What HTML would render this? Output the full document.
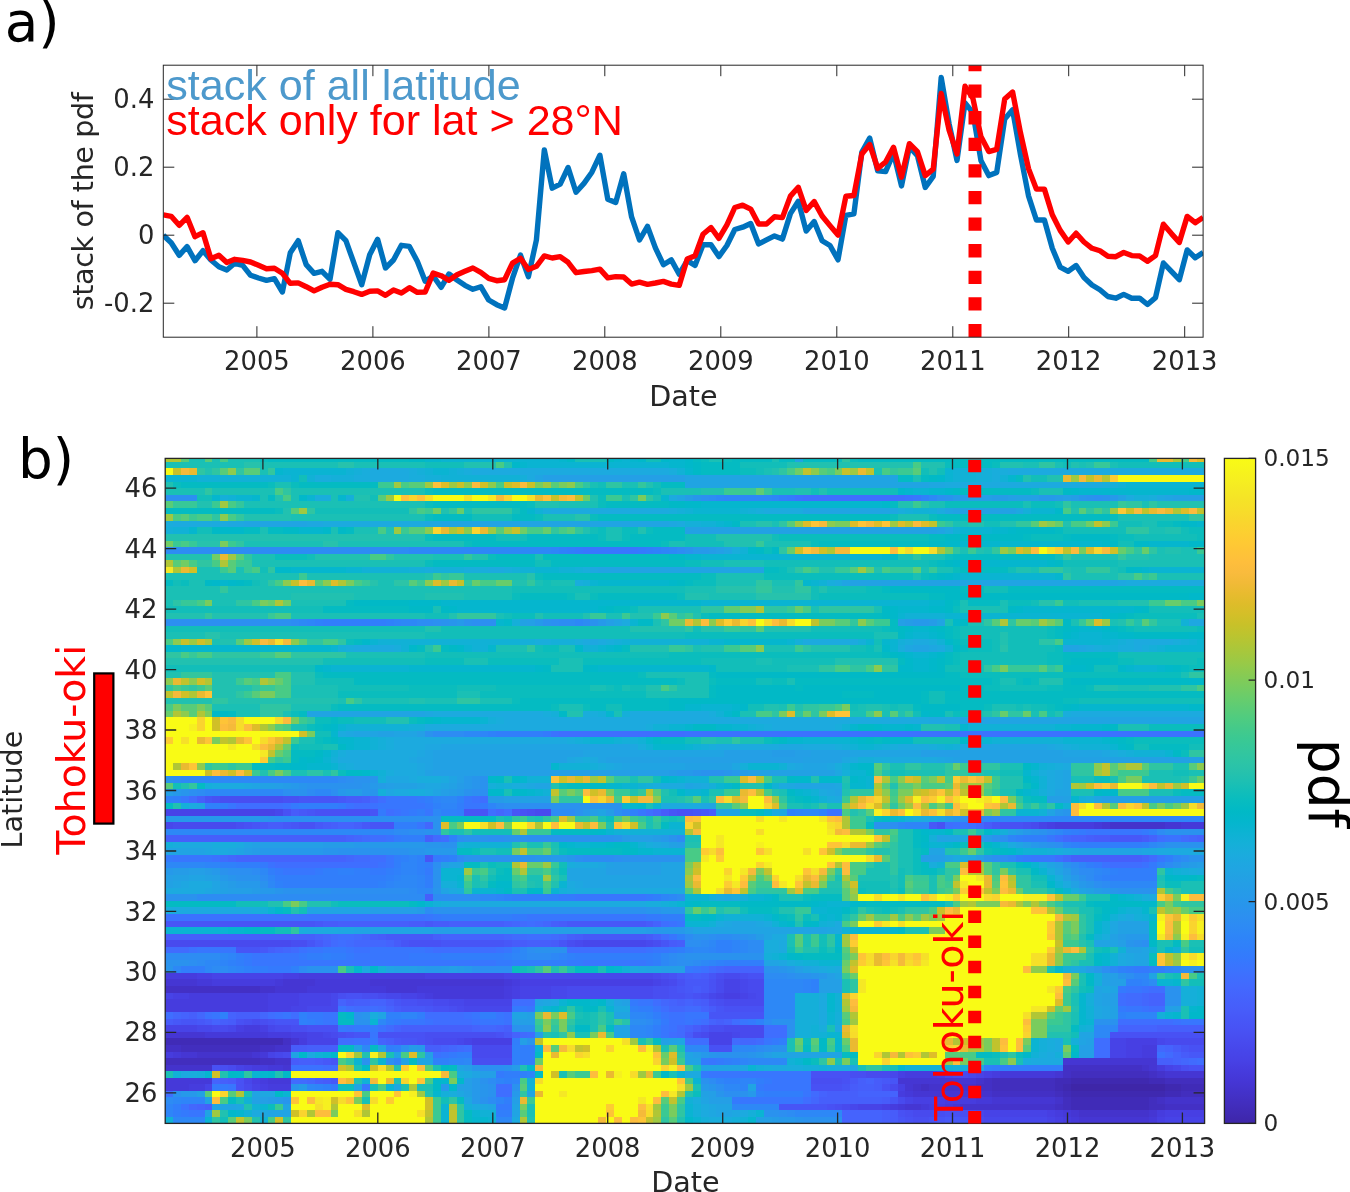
<!DOCTYPE html>
<html><head><meta charset="utf-8"><title>figure</title>
<style>html,body{margin:0;padding:0;background:#fff}svg{display:block}text{font-family:'DejaVu Sans','Liberation Sans',sans-serif;fill:#262626}.lib{font-family:'Liberation Sans',sans-serif}</style></head><body>
<svg width="1350" height="1192" viewBox="0 0 1350 1192">
<rect width="1350" height="1192" fill="#fff"/>
<g id="top">
<text x="256.9" y="370.3" font-size="25.8" text-anchor="middle">2005</text>
<text x="372.9" y="370.3" font-size="25.8" text-anchor="middle">2006</text>
<text x="488.9" y="370.3" font-size="25.8" text-anchor="middle">2007</text>
<text x="604.8" y="370.3" font-size="25.8" text-anchor="middle">2008</text>
<text x="720.8" y="370.3" font-size="25.8" text-anchor="middle">2009</text>
<text x="836.8" y="370.3" font-size="25.8" text-anchor="middle">2010</text>
<text x="952.8" y="370.3" font-size="25.8" text-anchor="middle">2011</text>
<text x="1068.7" y="370.3" font-size="25.8" text-anchor="middle">2012</text>
<text x="1184.7" y="370.3" font-size="25.8" text-anchor="middle">2013</text>
<text x="154.4" y="108.0" font-size="25.8" text-anchor="end">0.4</text>
<text x="154.4" y="176.0" font-size="25.8" text-anchor="end">0.2</text>
<text x="154.4" y="244.0" font-size="25.8" text-anchor="end">0</text>
<text x="154.4" y="312.0" font-size="25.8" text-anchor="end">-0.2</text>
<clipPath id="c1"><rect x="163.3" y="65.2" width="1039.8" height="272.0"/></clipPath>
<g clip-path="url(#c1)">
<polyline points="163.3,235.3 171.2,242.7 179.2,255.3 187.1,246.7 195.0,260.7 203.0,250.7 210.9,260.0 218.9,266.7 226.8,270.0 234.7,263.3 242.7,265.3 250.6,275.3 258.5,278.0 266.5,280.3 274.4,278.7 282.4,292.0 290.3,252.7 298.2,240.7 306.2,264.7 314.1,273.3 322.0,271.3 330.0,279.3 337.9,232.7 345.9,240.7 353.8,262.7 361.7,284.7 369.7,254.7 377.6,239.3 385.5,268.0 393.5,260.0 401.4,245.3 409.4,246.4 417.3,261.3 425.2,281.3 433.2,276.0 441.1,287.3 449.0,274.0 457.0,280.0 464.9,285.3 472.9,289.3 480.8,286.7 488.7,300.0 496.7,304.7 504.6,308.0 512.5,278.2 520.5,255.1 528.4,276.6 536.4,240.0 544.3,149.9 552.2,188.2 560.2,184.2 568.1,167.5 576.0,192.2 584.0,183.4 591.9,172.2 599.9,155.2 607.8,199.3 615.7,202.5 623.7,173.8 631.6,216.9 639.5,240.0 647.5,226.4 655.4,247.9 663.4,264.7 671.3,259.9 679.2,274.2 687.2,260.6 695.1,265.4 703.0,244.7 711.0,244.7 718.9,256.6 726.9,245.5 734.8,229.5 742.7,227.2 750.7,223.5 758.6,243.9 766.5,239.9 774.5,235.9 782.4,239.1 790.4,213.6 798.3,201.3 806.2,231.1 814.2,221.6 822.1,240.7 830.0,245.5 838.0,259.8 845.9,215.4 853.9,213.8 861.8,152.4 869.7,138.1 877.7,170.8 885.6,171.6 893.5,153.2 901.5,185.9 909.4,146.9 917.4,155.6 925.3,187.5 933.2,176.4 941.2,77.5 949.1,123.8 957.0,160.4 965.0,103.0 972.9,112.6 980.9,160.4 988.8,175.6 996.7,172.4 1004.7,119.0 1012.6,109.8 1020.5,154.9 1028.5,195.8 1036.4,220.0 1044.4,220.0 1052.3,248.3 1060.2,267.1 1068.2,271.3 1076.1,265.5 1084.0,277.6 1092.0,285.0 1099.9,289.8 1107.9,296.5 1115.8,298.2 1123.7,294.4 1131.7,298.2 1139.6,298.2 1147.5,304.5 1155.5,297.6 1163.4,263.0 1171.4,271.3 1179.3,279.7 1187.2,249.9 1195.2,257.7 1203.1,252.5" fill="none" stroke="#0072bd" stroke-width="5.4" stroke-linejoin="round"/>
<polyline points="163.3,214.9 171.2,216.3 179.2,225.3 187.1,217.3 195.0,236.7 203.0,232.7 210.9,258.7 218.9,255.3 226.8,262.4 234.7,259.3 242.7,260.4 250.6,262.0 258.5,265.3 266.5,268.7 274.4,268.3 282.4,273.3 290.3,283.3 298.2,282.9 306.2,286.7 314.1,290.9 322.0,287.3 330.0,284.3 337.9,284.7 345.9,289.3 353.8,291.7 361.7,294.4 369.7,291.3 377.6,290.9 385.5,295.3 393.5,290.0 401.4,293.1 409.4,287.7 417.3,292.3 425.2,292.0 433.2,273.1 441.1,275.7 449.0,280.3 457.0,274.7 464.9,271.3 472.9,268.0 480.8,272.3 488.7,278.4 496.7,280.7 504.6,279.7 512.5,263.1 520.5,258.3 528.4,269.5 536.4,266.3 544.3,255.9 552.2,258.0 560.2,256.7 568.1,262.3 576.0,272.7 584.0,271.5 591.9,270.6 599.9,269.1 607.8,277.9 615.7,276.6 623.7,277.0 631.6,284.1 639.5,282.2 647.5,284.3 655.4,283.0 663.4,281.4 671.3,284.1 679.2,285.4 687.2,259.0 695.1,255.8 703.0,234.3 711.0,227.5 718.9,238.3 726.9,224.8 734.8,207.5 742.7,205.2 750.7,209.1 758.6,224.0 766.5,224.0 774.5,216.8 782.4,217.6 790.4,196.1 798.3,187.3 806.2,210.4 814.2,201.6 822.1,216.0 830.0,225.6 838.0,235.1 845.9,196.3 853.9,195.5 861.8,154.0 869.7,144.5 877.7,168.4 885.6,162.0 893.5,147.3 901.5,177.2 909.4,143.7 917.4,151.6 925.3,175.6 933.2,169.2 941.2,93.5 949.1,130.1 957.0,154.0 965.0,86.3 972.9,98.3 980.9,136.5 988.8,151.6 996.7,149.3 1004.7,99.1 1012.6,92.0 1020.5,132.9 1028.5,168.6 1036.4,189.1 1044.4,189.1 1052.3,214.7 1060.2,230.4 1068.2,242.0 1076.1,233.2 1084.0,242.0 1092.0,248.3 1099.9,250.8 1107.9,256.2 1115.8,256.7 1123.7,252.5 1131.7,255.6 1139.6,256.0 1147.5,261.3 1155.5,255.6 1163.4,224.2 1171.4,233.6 1179.3,242.4 1187.2,216.4 1195.2,222.7 1203.1,217.4" fill="none" stroke="#ff0000" stroke-width="5.4" stroke-linejoin="round"/>
<line x1="975" y1="337.2" x2="975" y2="45.2" stroke="#ff0000" stroke-width="13" stroke-dasharray="13.3 13.3"/>
</g>
<path d="M256.9 337.2v-11M256.9 65.2v11M372.9 337.2v-11M372.9 65.2v11M488.9 337.2v-11M488.9 65.2v11M604.8 337.2v-11M604.8 65.2v11M720.8 337.2v-11M720.8 65.2v11M836.8 337.2v-11M836.8 65.2v11M952.8 337.2v-11M952.8 65.2v11M1068.7 337.2v-11M1068.7 65.2v11M1184.7 337.2v-11M1184.7 65.2v11M163.3 99.2h11M1203.1 99.2h-11M163.3 167.2h11M1203.1 167.2h-11M163.3 235.2h11M1203.1 235.2h-11M163.3 303.2h11M1203.1 303.2h-11" stroke="#262626" stroke-width="1" fill="none"/>
<rect x="163.3" y="65.2" width="1039.8" height="272.0" fill="none" stroke="#262626" stroke-width="1"/>
<text class="lib" x="166.2" y="100" font-size="43.1" style="fill:#4d99cc">stack of all latitude</text>
<text class="lib" x="166.2" y="134.7" font-size="43.1" style="fill:#ff0000">stack only for lat &gt; 28°N</text>
<text x="683.4" y="405.8" font-size="28.6" text-anchor="middle">Date</text>
<text transform="translate(92.8,201.4) rotate(-90)" font-size="28.6" letter-spacing="-0.4" text-anchor="middle">stack of the pdf</text>
<text x="4.7" y="41" font-size="54.8" style="fill:#000">a)</text>
</g>
<g id="hm" shape-rendering="crispEdges">
<g transform="translate(165.20,461.93) scale(7.87424,6.5511)">
<path fill="#3e26a8" d="M115 95h12v1h-12z"/>
<path fill="#3f29b0" d="M115 94h10v1h-10zM114 95h1v1h-1zM127 95h2v1h-2zM115 96h12v1h-12z"/>
<path fill="#402bb7" d="M0 88h15v1h-15zM113 94h2v1h-2zM125 94h2v1h-2zM113 95h1v1h-1zM129 95h3v1h-3zM114 96h1v1h-1zM127 96h2v1h-2zM115 97h10v1h-10zM115 98h10v1h-10z"/>
<path fill="#422ebe" d="M2 89h10v1h-10zM0 91h12v1h-12zM115 93h10v1h-10zM105 94h8v1h-8zM127 94h5v1h-5zM105 95h8v1h-8zM113 96h1v1h-1zM129 96h3v1h-3zM114 97h1v1h-1zM125 97h1v1h-1zM114 98h1v1h-1zM125 98h2v1h-2z"/>
<path fill="#4330c5" d="M0 80h12v1h-12zM15 88h1v1h-1zM0 89h2v1h-2zM12 89h2v1h-2zM12 91h2v1h-2zM114 92h10v1h-10zM114 93h1v1h-1zM125 93h1v1h-1zM104 94h1v1h-1zM96 95h1v1h-1zM103 95h2v1h-2zM105 96h8v1h-8zM126 97h1v1h-1zM113 98h1v1h-1zM127 98h5v1h-5z"/>
<path fill="#4433cc" d="M120 55h7v1h-7zM12 80h2v1h-2zM14 89h2v1h-2zM4 90h7v1h-7zM14 91h2v1h-2zM0 92h6v1h-6zM124 92h1v1h-1zM126 93h1v1h-1zM103 94h1v1h-1zM95 95h1v1h-1zM97 95h6v1h-6zM103 96h2v1h-2zM113 97h1v1h-1zM127 97h5v1h-5zM101 98h12v1h-12zM116 99h9v1h-9z"/>
<path fill="#4536d3" d="M119 55h1v1h-1zM127 55h2v1h-2zM0 79h4v1h-4zM15 79h4v1h-4zM26 79h17v1h-17zM14 80h4v1h-4zM28 80h4v1h-4zM0 87h5v1h-5zM16 88h1v1h-1zM2 90h2v1h-2zM11 90h1v1h-1zM114 91h12v1h-12zM15 92h1v1h-1zM125 92h1v1h-1zM113 93h1v1h-1zM127 93h5v1h-5zM93 94h10v1h-10zM94 95h1v1h-1zM95 96h8v1h-8zM105 97h8v1h-8zM94 98h2v1h-2zM100 98h1v1h-1zM115 99h1v1h-1zM125 99h1v1h-1zM116 100h9v.971h-9z"/>
<path fill="#4539d9" d="M118 55h1v1h-1zM129 55h3v1h-3zM4 79h2v1h-2zM14 79h1v1h-1zM19 79h7v1h-7zM43 79h1v1h-1zM18 80h10v1h-10zM32 80h11v1h-11zM34 81h9v1h-9zM5 87h8v1h-8zM1 90h1v1h-1zM12 90h1v1h-1zM13 92h2v1h-2zM106 93h7v1h-7zM0 94h6v1h-6zM13 94h3v1h-3zM0 95h3v1h-3zM94 96h1v1h-1zM103 97h2v1h-2zM93 98h1v1h-1zM96 98h1v1h-1zM99 98h1v1h-1zM114 99h1v1h-1zM115 100h1v.971h-1zM125 100h1v.971h-1z"/>
<path fill="#463cde" d="M113 55h5v1h-5zM0 78h4v1h-4zM17 78h16v1h-16zM6 79h8v1h-8zM44 79h1v1h-1zM43 80h1v1h-1zM3 81h10v1h-10zM33 81h1v1h-1zM43 81h1v1h-1zM0 82h13v1h-13zM0 83h13v1h-13zM10 86h2v1h-2zM13 87h3v1h-3zM17 88h1v1h-1zM124 89h2v1h-2zM0 90h1v1h-1zM124 90h2v1h-2zM11 92h2v1h-2zM126 92h1v1h-1zM94 93h4v1h-4zM105 93h1v1h-1zM12 94h1v1h-1zM3 95h2v1h-2zM13 95h3v1h-3zM93 96h1v1h-1zM99 97h4v1h-4zM92 98h1v1h-1zM97 98h2v1h-2zM113 99h1v1h-1zM126 99h1v1h-1zM114 100h1v.971h-1z"/>
<path fill="#473fe3" d="M112 55h1v1h-1zM4 78h2v1h-2zM15 78h2v1h-2zM33 78h10v1h-10zM45 79h17v1h-17zM44 80h1v1h-1zM1 81h2v1h-2zM13 81h4v1h-4zM32 81h1v1h-1zM44 81h1v1h-1zM71 81h2v1h-2zM13 82h4v1h-4zM13 83h3v1h-3zM9 86h1v1h-1zM12 86h1v1h-1zM16 87h2v1h-2zM39 88h5v1h-5zM122 88h4v1h-4zM122 89h2v1h-2zM122 90h2v1h-2zM10 92h1v1h-1zM93 93h1v1h-1zM98 93h1v1h-1zM104 93h1v1h-1zM11 94h1v1h-1zM12 95h1v1h-1zM93 95h1v1h-1zM95 97h4v1h-4zM91 98h1v1h-1zM112 99h1v1h-1zM127 99h5v1h-5zM113 100h1v.971h-1zM126 100h1v.971h-1z"/>
<path fill="#4743e7" d="M0 53h14v1h-14zM111 55h1v1h-1zM6 78h9v1h-9zM43 78h2v1h-2zM62 79h1v1h-1zM71 79h2v1h-2zM45 80h4v1h-4zM71 80h2v1h-2zM0 81h1v1h-1zM17 81h4v1h-4zM30 81h2v1h-2zM45 81h4v1h-4zM70 81h1v1h-1zM73 81h1v1h-1zM17 82h4v1h-4zM38 82h6v1h-6zM16 83h2v1h-2zM0 86h4v1h-4zM18 87h2v1h-2zM69 87h3v1h-3zM18 88h4v1h-4zM38 88h1v1h-1zM69 88h3v1h-3zM120 88h2v1h-2zM120 89h2v1h-2zM13 90h1v1h-1zM120 90h2v1h-2zM9 92h1v1h-1zM127 92h1v1h-1zM103 93h1v1h-1zM5 95h1v1h-1zM11 95h1v1h-1zM94 97h1v1h-1zM88 98h3v1h-3zM104 99h8v1h-8zM112 100h1v.971h-1zM127 100h5v.971h-5z"/>
<path fill="#4747eb" d="M14 53h1v1h-1zM0 55h1v1h-1zM53 73h8v1h-8zM45 78h17v1h-17zM63 79h1v1h-1zM73 79h1v1h-1zM49 80h2v1h-2zM73 80h1v1h-1zM21 81h1v1h-1zM28 81h2v1h-2zM49 81h2v1h-2zM69 81h1v1h-1zM74 81h1v1h-1zM21 82h1v1h-1zM36 82h2v1h-2zM18 83h4v1h-4zM38 83h6v1h-6zM4 86h2v1h-2zM8 86h1v1h-1zM13 86h1v1h-1zM20 87h1v1h-1zM72 87h1v1h-1zM37 88h1v1h-1zM126 88h1v1h-1zM14 90h1v1h-1zM128 92h1v1h-1zM92 93h1v1h-1zM99 93h1v1h-1zM102 93h1v1h-1zM10 94h1v1h-1zM87 98h1v1h-1zM103 99h1v1h-1zM104 100h8v.971h-8z"/>
<path fill="#484aee" d="M47 53h2v1h-2zM1 55h8v1h-8zM110 55h1v1h-1zM0 73h16v1h-16zM52 73h1v1h-1zM61 73h1v1h-1zM62 78h1v1h-1zM71 78h2v1h-2zM64 79h1v1h-1zM70 79h1v1h-1zM74 79h2v1h-2zM51 80h11v1h-11zM70 80h1v1h-1zM74 80h2v1h-2zM27 81h1v1h-1zM51 81h11v1h-11zM75 81h1v1h-1zM34 82h2v1h-2zM71 82h5v1h-5zM37 83h1v1h-1zM11 85h1v1h-1zM6 86h2v1h-2zM14 86h2v1h-2zM71 86h5v1h-5zM21 87h1v1h-1zM68 87h1v1h-1zM73 87h3v1h-3zM34 88h3v1h-3zM127 88h5v1h-5zM39 89h5v1h-5zM15 90h1v1h-1zM39 90h5v1h-5zM8 92h1v1h-1zM89 93h3v1h-3zM100 93h2v1h-2zM10 95h1v1h-1zM92 95h1v1h-1zM93 97h1v1h-1zM86 98h1v1h-1zM95 99h3v1h-3zM102 99h1v1h-1zM103 100h1v.971h-1z"/>
<path fill="#484ef1" d="M7 51h8v1h-8zM46 53h1v1h-1zM9 55h1v1h-1zM109 55h1v1h-1zM16 73h2v1h-2zM51 73h1v1h-1zM62 73h1v1h-1zM63 78h1v1h-1zM70 78h1v1h-1zM73 78h1v1h-1zM62 80h2v1h-2zM22 81h1v1h-1zM25 81h2v1h-2zM62 81h2v1h-2zM68 81h1v1h-1zM32 82h2v1h-2zM70 82h1v1h-1zM36 83h1v1h-1zM10 85h1v1h-1zM12 85h1v1h-1zM16 86h2v1h-2zM69 86h2v1h-2zM22 87h1v1h-1zM33 87h9v1h-9zM67 87h1v1h-1zM33 88h1v1h-1zM39 91h5v1h-5zM7 92h1v1h-1zM129 92h1v1h-1zM87 93h2v1h-2zM82 94h4v1h-4zM85 98h1v1h-1zM94 99h1v1h-1zM98 99h1v1h-1zM101 99h1v1h-1zM95 100h2v.971h-2zM102 100h1v.971h-1z"/>
<path fill="#4851f4" d="M6 51h1v1h-1zM15 51h2v1h-2zM15 53h1v1h-1zM19 53h7v1h-7zM45 53h1v1h-1zM65 53h2v1h-2zM10 55h1v1h-1zM17 55h2v1h-2zM98 55h1v1h-1zM106 55h3v1h-3zM31 73h4v1h-4zM64 78h1v1h-1zM74 78h2v1h-2zM65 79h1v1h-1zM69 79h1v1h-1zM64 80h1v1h-1zM69 80h1v1h-1zM23 81h2v1h-2zM64 81h2v1h-2zM67 81h1v1h-1zM30 82h2v1h-2zM69 82h1v1h-1zM34 83h2v1h-2zM71 83h5v1h-5zM9 85h1v1h-1zM13 85h1v1h-1zM18 86h4v1h-4zM23 87h1v1h-1zM27 87h6v1h-6zM42 87h1v1h-1zM120 87h12v1h-12zM32 88h1v1h-1zM69 89h3v1h-3zM130 89h2v1h-2zM6 92h1v1h-1zM130 92h2v1h-2zM82 93h5v1h-5zM9 94h1v1h-1zM86 94h1v1h-1zM9 95h1v1h-1zM82 95h4v1h-4zM91 95h1v1h-1zM84 98h1v1h-1zM93 99h1v1h-1zM99 99h2v1h-2zM94 100h1v.971h-1zM97 100h1v.971h-1z"/>
<path fill="#4755f6" d="M5 51h1v1h-1zM17 51h5v1h-5zM18 53h1v1h-1zM26 53h1v1h-1zM38 53h3v1h-3zM44 53h1v1h-1zM64 53h1v1h-1zM67 53h1v1h-1zM11 55h1v1h-1zM16 55h1v1h-1zM26 55h3v1h-3zM105 55h1v1h-1zM33 60h1v1h-1zM0 70h19v1h-19zM18 73h1v1h-1zM30 73h1v1h-1zM35 73h8v1h-8zM50 73h1v1h-1zM63 73h1v1h-1zM9 74h3v1h-3zM69 78h1v1h-1zM65 80h1v1h-1zM66 81h1v1h-1zM29 82h1v1h-1zM33 83h1v1h-1zM70 83h1v1h-1zM69 84h7v1h-7zM2 85h2v1h-2zM14 85h3v1h-3zM68 86h1v1h-1zM24 87h2v1h-2zM30 88h2v1h-2zM129 89h1v1h-1zM21 91h1v1h-1zM92 94h1v1h-1zM86 95h1v1h-1zM92 97h1v1h-1zM78 98h6v1h-6zM93 100h1v.971h-1zM98 100h1v.971h-1zM101 100h1v.971h-1z"/>
<path fill="#4758f8" d="M22 51h1v1h-1zM17 53h1v1h-1zM68 53h1v1h-1zM12 55h1v1h-1zM15 55h1v1h-1zM19 55h1v1h-1zM25 55h1v1h-1zM97 55h1v1h-1zM120 57h4v1h-4zM19 70h1v1h-1zM33 70h1v1h-1zM51 70h10v1h-10zM28 72h6v1h-6zM53 72h8v1h-8zM43 73h1v1h-1zM12 74h1v1h-1zM65 78h1v1h-1zM66 79h3v1h-3zM66 80h1v1h-1zM68 80h1v1h-1zM30 83h3v1h-3zM1 85h1v1h-1zM4 85h1v1h-1zM43 87h1v1h-1zM29 88h1v1h-1zM130 90h2v1h-2zM20 91h1v1h-1zM21 94h1v1h-1zM87 94h1v1h-1zM91 94h1v1h-1zM99 100h2v.971h-2z"/>
<path fill="#475cfa" d="M23 51h2v1h-2zM16 53h1v1h-1zM63 53h1v1h-1zM13 55h2v1h-2zM20 55h1v1h-1zM104 55h1v1h-1zM118 57h2v1h-2zM124 57h1v1h-1zM20 70h2v1h-2zM31 70h2v1h-2zM34 70h2v1h-2zM50 70h1v1h-1zM61 70h1v1h-1zM27 72h1v1h-1zM52 72h1v1h-1zM61 72h1v1h-1zM19 73h1v1h-1zM29 73h1v1h-1zM44 73h2v1h-2zM49 73h1v1h-1zM64 73h1v1h-1zM66 78h1v1h-1zM68 78h1v1h-1zM67 80h1v1h-1zM23 82h1v1h-1zM28 82h1v1h-1zM68 82h1v1h-1zM29 83h1v1h-1zM69 83h1v1h-1zM0 85h1v1h-1zM5 85h1v1h-1zM8 85h1v1h-1zM67 86h1v1h-1zM66 87h1v1h-1zM16 89h2v1h-2zM128 89h1v1h-1zM129 90h1v1h-1zM16 91h1v1h-1zM19 91h1v1h-1zM8 94h1v1h-1zM20 94h1v1h-1zM90 94h1v1h-1zM87 95h1v1h-1zM90 95h1v1h-1zM91 97h1v1h-1zM92 99h1v1h-1zM92 100h1v.971h-1z"/>
<path fill="#465ffb" d="M4 51h1v1h-1zM25 51h1v1h-1zM69 53h1v1h-1zM21 55h1v1h-1zM24 55h1v1h-1zM0 57h23v1h-23zM33 57h1v1h-1zM117 57h1v1h-1zM115 60h9v1h-9zM33 66h1v1h-1zM22 70h9v1h-9zM36 70h7v1h-7zM49 70h1v1h-1zM0 72h19v1h-19zM26 72h1v1h-1zM34 72h1v1h-1zM51 72h1v1h-1zM46 73h3v1h-3zM65 73h1v1h-1zM13 74h1v1h-1zM67 78h1v1h-1zM24 82h2v1h-2zM65 82h1v1h-1zM67 82h1v1h-1zM3 84h1v1h-1zM9 84h3v1h-3zM7 85h1v1h-1zM70 85h1v1h-1zM30 86h9v1h-9zM43 86h1v1h-1zM126 86h6v1h-6zM28 88h1v1h-1zM18 89h4v1h-4zM33 89h2v1h-2zM17 91h2v1h-2zM126 91h2v1h-2zM7 94h1v1h-1zM19 94h1v1h-1zM88 94h1v1h-1zM88 95h2v1h-2zM84 96h4v1h-4zM83 97h8v1h-8zM5 98h1v1h-1zM91 99h1v1h-1zM91 100h1v.971h-1z"/>
<path fill="#4563fd" d="M22 55h2v1h-2zM23 57h1v1h-1zM115 57h2v1h-2zM125 57h1v1h-1zM131 57h1v1h-1zM9 60h14v1h-14zM124 60h1v1h-1zM43 70h1v1h-1zM62 70h1v1h-1zM19 72h1v1h-1zM35 72h8v1h-8zM62 72h1v1h-1zM20 73h1v1h-1zM28 73h1v1h-1zM14 74h1v1h-1zM71 77h5v1h-5zM125 81h2v1h-2zM22 82h1v1h-1zM26 82h2v1h-2zM64 82h1v1h-1zM66 82h1v1h-1zM125 82h2v1h-2zM28 83h1v1h-1zM68 83h1v1h-1zM2 84h1v1h-1zM8 84h1v1h-1zM6 85h1v1h-1zM69 85h1v1h-1zM71 85h1v1h-1zM29 86h1v1h-1zM39 86h1v1h-1zM42 86h1v1h-1zM66 86h1v1h-1zM121 86h5v1h-5zM44 87h1v1h-1zM27 88h1v1h-1zM35 89h1v1h-1zM127 89h1v1h-1zM128 90h1v1h-1zM128 91h1v1h-1zM6 94h1v1h-1zM89 94h1v1h-1zM83 96h1v1h-1zM88 96h5v1h-5zM4 98h1v1h-1zM86 99h5v1h-5zM86 100h5v.971h-5z"/>
<path fill="#4367fd" d="M26 51h1v1h-1zM42 53h1v1h-1zM62 53h1v1h-1zM33 55h1v1h-1zM103 55h1v1h-1zM24 57h1v1h-1zM114 57h1v1h-1zM130 57h1v1h-1zM8 60h1v1h-1zM23 60h1v1h-1zM114 60h1v1h-1zM44 70h1v1h-1zM48 70h1v1h-1zM20 72h1v1h-1zM25 72h1v1h-1zM43 72h1v1h-1zM50 72h1v1h-1zM24 73h4v1h-4zM15 74h1v1h-1zM70 77h1v1h-1zM124 81h1v1h-1zM63 82h1v1h-1zM124 82h1v1h-1zM64 83h2v1h-2zM1 84h1v1h-1zM4 84h1v1h-1zM12 84h1v1h-1zM40 86h2v1h-2zM73 88h2v1h-2zM36 89h1v1h-1zM126 89h1v1h-1zM129 91h1v1h-1zM18 94h1v1h-1zM82 97h1v1h-1zM3 98h1v1h-1z"/>
<path fill="#416bfe" d="M3 51h1v1h-1zM25 57h1v1h-1zM34 57h1v1h-1zM129 57h1v1h-1zM7 60h1v1h-1zM24 60h2v1h-2zM125 60h1v1h-1zM45 70h1v1h-1zM47 70h1v1h-1zM21 72h1v1h-1zM24 72h1v1h-1zM44 72h2v1h-2zM49 72h1v1h-1zM21 73h1v1h-1zM23 73h1v1h-1zM0 74h3v1h-3zM16 74h1v1h-1zM69 77h1v1h-1zM122 81h2v1h-2zM122 82h2v1h-2zM24 83h2v1h-2zM27 83h1v1h-1zM66 83h2v1h-2zM28 86h1v1h-1zM65 86h1v1h-1zM45 87h1v1h-1zM65 87h1v1h-1zM72 88h1v1h-1zM75 88h1v1h-1zM37 89h1v1h-1zM127 90h1v1h-1zM130 91h1v1h-1zM16 94h2v1h-2zM82 96h1v1h-1z"/>
<path fill="#3f6eff" d="M81 5h13v1h-13zM50 41h16v1h-16zM27 51h1v1h-1zM40 51h1v1h-1zM9 52h6v1h-6zM24 52h2v1h-2zM28 53h1v1h-1zM41 53h1v1h-1zM43 53h1v1h-1zM61 53h1v1h-1zM99 55h1v1h-1zM102 55h1v1h-1zM26 57h2v1h-2zM35 57h1v1h-1zM113 57h1v1h-1zM126 57h1v1h-1zM26 60h2v1h-2zM113 60h1v1h-1zM14 61h13v1h-13zM120 61h4v1h-4zM46 70h1v1h-1zM63 70h1v1h-1zM22 72h2v1h-2zM46 72h3v1h-3zM63 72h1v1h-1zM22 73h1v1h-1zM34 74h8v1h-8zM51 74h10v1h-10zM125 80h2v1h-2zM121 81h1v1h-1zM44 82h3v1h-3zM62 82h1v1h-1zM121 82h1v1h-1zM23 83h1v1h-1zM26 83h1v1h-1zM63 83h1v1h-1zM125 83h2v1h-2zM0 84h1v1h-1zM13 84h1v1h-1zM16 84h1v1h-1zM33 84h5v1h-5zM34 85h5v1h-5zM68 85h1v1h-1zM72 85h1v1h-1zM121 85h7v1h-7zM76 86h3v1h-3zM46 87h1v1h-1zM64 87h1v1h-1zM76 87h3v1h-3zM22 88h2v1h-2zM66 88h3v1h-3zM118 88h2v1h-2zM38 89h1v1h-1zM118 89h2v1h-2zM118 90h2v1h-2zM131 91h1v1h-1zM20 92h2v1h-2zM42 95h2v1h-2zM0 96h1v1h-1zM42 96h2v1h-2zM81 97h1v1h-1z"/>
<path fill="#3b72ff" d="M80 5h1v1h-1zM94 5h1v1h-1zM49 41h1v1h-1zM66 41h66v1h-66zM39 51h1v1h-1zM15 52h1v1h-1zM23 52h1v1h-1zM26 52h1v1h-1zM29 53h1v1h-1zM84 53h2v1h-2zM100 55h1v1h-1zM28 57h1v1h-1zM127 57h2v1h-2zM6 60h1v1h-1zM13 61h1v1h-1zM27 61h1v1h-1zM119 61h1v1h-1zM124 61h1v1h-1zM0 69h33v1h-33zM64 70h1v1h-1zM3 74h1v1h-1zM17 74h1v1h-1zM24 74h2v1h-2zM33 74h1v1h-1zM42 74h1v1h-1zM61 74h1v1h-1zM68 77h1v1h-1zM124 80h1v1h-1zM124 83h1v1h-1zM5 84h1v1h-1zM14 84h1v1h-1zM38 84h1v1h-1zM43 84h1v1h-1zM64 84h2v1h-2zM33 85h1v1h-1zM39 85h1v1h-1zM43 85h1v1h-1zM64 85h2v1h-2zM67 85h1v1h-1zM128 85h1v1h-1zM27 86h1v1h-1zM64 86h1v1h-1zM24 88h2v1h-2zM34 90h1v1h-1zM126 90h1v1h-1zM16 92h4v1h-4zM2 98h1v1h-1z"/>
<path fill="#3876fe" d="M95 5h1v1h-1zM53 13h7v1h-7zM2 51h1v1h-1zM28 51h4v1h-4zM38 51h1v1h-1zM8 52h1v1h-1zM27 52h6v1h-6zM38 52h2v1h-2zM30 53h1v1h-1zM33 53h1v1h-1zM60 53h1v1h-1zM32 55h1v1h-1zM101 55h1v1h-1zM117 56h7v1h-7zM112 57h1v1h-1zM1 60h5v1h-5zM28 60h1v1h-1zM110 60h3v1h-3zM126 60h1v1h-1zM28 61h1v1h-1zM15 62h4v1h-4zM52 66h9v1h-9zM33 69h1v1h-1zM46 69h15v1h-15zM65 70h1v1h-1zM64 72h1v1h-1zM4 74h5v1h-5zM18 74h2v1h-2zM23 74h1v1h-1zM26 74h7v1h-7zM43 74h1v1h-1zM62 74h2v1h-2zM11 75h6v1h-6zM24 75h7v1h-7zM11 76h31v1h-31zM53 76h8v1h-8zM67 77h1v1h-1zM122 80h2v1h-2zM60 82h2v1h-2zM22 83h1v1h-1zM46 83h1v1h-1zM62 83h1v1h-1zM122 83h2v1h-2zM6 84h1v1h-1zM15 84h1v1h-1zM20 84h2v1h-2zM39 84h1v1h-1zM42 84h1v1h-1zM63 84h1v1h-1zM66 84h3v1h-3zM20 85h2v1h-2zM30 85h3v1h-3zM40 85h3v1h-3zM66 85h1v1h-1zM73 85h1v1h-1zM129 85h3v1h-3zM23 86h1v1h-1zM63 86h1v1h-1zM26 87h1v1h-1zM63 87h1v1h-1zM76 88h1v1h-1zM35 90h1v1h-1zM69 91h1v1h-1zM69 93h13v1h-13zM77 94h5v1h-5zM8 95h1v1h-1zM25 95h1v1h-1zM76 95h6v1h-6zM81 96h1v1h-1zM73 97h8v1h-8zM3 99h2v1h-2z"/>
<path fill="#347afd" d="M79 5h1v1h-1zM52 13h1v1h-1zM60 13h1v1h-1zM48 41h1v1h-1zM32 51h1v1h-1zM16 52h1v1h-1zM22 52h1v1h-1zM33 52h1v1h-1zM40 52h1v1h-1zM27 53h1v1h-1zM31 53h1v1h-1zM116 56h1v1h-1zM124 56h1v1h-1zM29 57h1v1h-1zM0 60h1v1h-1zM34 60h1v1h-1zM109 60h1v1h-1zM12 61h1v1h-1zM118 61h1v1h-1zM125 61h1v1h-1zM14 62h1v1h-1zM19 62h1v1h-1zM26 62h2v1h-2zM33 62h1v1h-1zM50 66h2v1h-2zM61 66h1v1h-1zM34 69h1v1h-1zM44 69h2v1h-2zM61 69h2v1h-2zM20 74h3v1h-3zM64 74h1v1h-1zM10 75h1v1h-1zM17 75h1v1h-1zM23 75h1v1h-1zM31 75h4v1h-4zM10 76h1v1h-1zM42 76h2v1h-2zM51 76h2v1h-2zM61 76h1v1h-1zM13 77h3v1h-3zM66 77h1v1h-1zM123 77h2v1h-2zM121 80h1v1h-1zM59 82h1v1h-1zM44 83h2v1h-2zM121 83h1v1h-1zM18 84h2v1h-2zM19 85h1v1h-1zM29 85h1v1h-1zM63 85h1v1h-1zM74 85h1v1h-1zM22 86h1v1h-1zM24 86h3v1h-3zM26 88h1v1h-1zM77 88h1v1h-1zM36 90h1v1h-1zM68 91h1v1h-1zM70 91h1v1h-1zM42 93h1v1h-1zM68 93h1v1h-1zM76 94h1v1h-1zM6 95h2v1h-2zM21 95h1v1h-1zM75 95h1v1h-1zM72 97h1v1h-1zM42 98h2v1h-2zM2 99h1v1h-1z"/>
<path fill="#317efb" d="M78 5h1v1h-1zM51 13h1v1h-1zM61 13h1v1h-1zM20 24h8v1h-8zM42 41h6v1h-6zM1 51h1v1h-1zM33 51h1v1h-1zM7 52h1v1h-1zM17 52h5v1h-5zM37 52h1v1h-1zM32 53h1v1h-1zM37 53h1v1h-1zM29 55h3v1h-3zM115 56h1v1h-1zM30 57h3v1h-3zM109 57h3v1h-3zM116 58h8v1h-8zM29 60h1v1h-1zM35 60h1v1h-1zM108 60h1v1h-1zM127 60h1v1h-1zM9 61h3v1h-3zM29 61h1v1h-1zM33 61h1v1h-1zM117 61h1v1h-1zM13 62h1v1h-1zM20 62h2v1h-2zM24 62h2v1h-2zM28 62h1v1h-1zM121 62h5v1h-5zM14 63h14v1h-14zM33 63h1v1h-1zM120 63h6v1h-6zM15 64h12v1h-12zM33 64h1v1h-1zM44 66h6v1h-6zM62 66h1v1h-1zM35 69h9v1h-9zM63 69h3v1h-3zM65 74h1v1h-1zM9 75h1v1h-1zM18 75h2v1h-2zM21 75h2v1h-2zM35 75h8v1h-8zM52 75h10v1h-10zM9 76h1v1h-1zM44 76h7v1h-7zM62 76h1v1h-1zM71 76h5v1h-5zM2 77h3v1h-3zM11 77h2v1h-2zM122 77h1v1h-1zM125 77h2v1h-2zM60 83h2v1h-2zM32 84h1v1h-1zM40 84h2v1h-2zM62 84h1v1h-1zM18 85h1v1h-1zM28 85h1v1h-1zM62 86h1v1h-1zM62 87h1v1h-1zM44 88h1v1h-1zM78 88h1v1h-1zM28 89h1v1h-1zM45 89h2v1h-2zM37 90h2v1h-2zM45 90h2v1h-2zM45 91h2v1h-2zM71 91h1v1h-1zM105 92h9v1h-9zM43 93h2v1h-2zM75 94h1v1h-1zM76 96h5v1h-5zM43 97h1v1h-1zM1 98h1v1h-1zM1 99h1v1h-1zM42 99h2v1h-2z"/>
<path fill="#2f81fa" d="M96 5h1v1h-1zM50 13h1v1h-1zM62 13h1v1h-1zM19 24h1v1h-1zM28 24h1v1h-1zM41 41h1v1h-1zM0 51h1v1h-1zM37 51h1v1h-1zM5 52h2v1h-2zM34 52h1v1h-1zM35 53h2v1h-2zM59 53h1v1h-1zM79 53h1v1h-1zM83 53h1v1h-1zM114 56h1v1h-1zM125 56h1v1h-1zM36 57h1v1h-1zM108 57h1v1h-1zM115 58h1v1h-1zM124 58h1v1h-1zM30 60h1v1h-1zM32 60h1v1h-1zM36 60h1v1h-1zM7 61h2v1h-2zM32 61h1v1h-1zM22 62h2v1h-2zM29 62h1v1h-1zM32 62h1v1h-1zM120 62h1v1h-1zM28 63h1v1h-1zM119 63h1v1h-1zM14 64h1v1h-1zM27 64h1v1h-1zM43 66h1v1h-1zM65 72h1v1h-1zM70 73h2v1h-2zM44 74h1v1h-1zM70 74h2v1h-2zM20 75h1v1h-1zM43 75h1v1h-1zM51 75h1v1h-1zM62 75h1v1h-1zM8 76h1v1h-1zM70 76h1v1h-1zM10 77h1v1h-1zM16 77h1v1h-1zM121 77h1v1h-1zM82 79h1v1h-1zM122 79h2v1h-2zM82 80h1v1h-1zM59 83h1v1h-1zM7 84h1v1h-1zM17 84h1v1h-1zM28 84h2v1h-2zM121 84h1v1h-1zM17 85h1v1h-1zM75 85h1v1h-1zM29 89h1v1h-1zM44 89h1v1h-1zM44 90h1v1h-1zM34 91h2v1h-2zM44 91h1v1h-1zM72 91h1v1h-1zM104 92h1v1h-1zM45 93h1v1h-1zM43 94h1v1h-1zM71 94h2v1h-2zM20 95h1v1h-1zM75 96h1v1h-1z"/>
<path fill="#2e85f8" d="M71 5h2v1h-2zM77 5h1v1h-1zM49 13h1v1h-1zM63 13h1v1h-1zM18 24h1v1h-1zM29 24h1v1h-1zM40 41h1v1h-1zM34 51h1v1h-1zM35 52h2v1h-2zM41 52h1v1h-1zM80 53h1v1h-1zM103 54h29v1h-29zM94 55h3v1h-3zM107 57h1v1h-1zM114 58h1v1h-1zM31 60h1v1h-1zM5 61h2v1h-2zM30 61h2v1h-2zM116 61h1v1h-1zM126 61h1v1h-1zM30 62h2v1h-2zM119 62h1v1h-1zM13 63h1v1h-1zM29 63h1v1h-1zM32 63h1v1h-1zM118 63h1v1h-1zM28 64h1v1h-1zM32 64h1v1h-1zM42 66h1v1h-1zM63 66h1v1h-1zM72 73h1v1h-1zM66 74h1v1h-1zM69 74h1v1h-1zM72 74h1v1h-1zM8 75h1v1h-1zM44 75h1v1h-1zM50 75h1v1h-1zM7 76h1v1h-1zM69 76h1v1h-1zM9 77h1v1h-1zM127 77h1v1h-1zM81 79h1v1h-1zM124 79h1v1h-1zM81 80h1v1h-1zM30 84h2v1h-2zM61 84h1v1h-1zM122 84h4v1h-4zM62 85h1v1h-1zM61 86h1v1h-1zM61 87h1v1h-1zM29 91h1v1h-1zM36 91h2v1h-2zM73 91h1v1h-1zM46 93h1v1h-1zM42 94h1v1h-1zM44 94h1v1h-1zM70 94h1v1h-1zM73 94h2v1h-2zM19 95h1v1h-1zM73 95h1v1h-1zM2 97h3v1h-3zM42 97h1v1h-1zM0 98h1v1h-1zM0 99h1v1h-1z"/>
<path fill="#2d88f6" d="M70 5h1v1h-1zM73 5h4v1h-4zM97 5h1v1h-1zM31 13h18v1h-18zM64 13h1v1h-1zM17 24h1v1h-1zM30 24h2v1h-2zM52 24h1v1h-1zM38 41h2v1h-2zM2 48h20v1h-20zM5 50h10v1h-10zM19 50h2v1h-2zM35 51h2v1h-2zM34 53h1v1h-1zM58 53h1v1h-1zM81 53h2v1h-2zM102 54h1v1h-1zM93 55h1v1h-1zM0 56h29v1h-29zM113 56h1v1h-1zM125 58h1v1h-1zM107 60h1v1h-1zM128 60h1v1h-1zM0 61h5v1h-5zM12 62h1v1h-1zM118 62h1v1h-1zM30 63h2v1h-2zM13 64h1v1h-1zM29 64h3v1h-3zM120 64h6v1h-6zM32 65h2v1h-2zM40 66h2v1h-2zM64 66h1v1h-1zM69 73h1v1h-1zM73 73h1v1h-1zM45 74h1v1h-1zM67 74h2v1h-2zM73 74h1v1h-1zM7 75h1v1h-1zM45 75h1v1h-1zM49 75h1v1h-1zM63 75h1v1h-1zM5 76h2v1h-2zM63 76h1v1h-1zM68 76h1v1h-1zM1 77h1v1h-1zM5 77h1v1h-1zM8 77h1v1h-1zM120 77h1v1h-1zM128 77h1v1h-1zM123 78h2v1h-2zM76 79h5v1h-5zM76 80h5v1h-5zM76 81h4v1h-4zM76 82h4v1h-4zM76 83h4v1h-4zM59 84h2v1h-2zM76 84h4v1h-4zM27 85h1v1h-1zM59 86h2v1h-2zM118 86h3v1h-3zM59 87h2v1h-2zM118 87h2v1h-2zM25 89h1v1h-1zM66 89h3v1h-3zM72 89h3v1h-3zM38 91h1v1h-1zM74 91h5v1h-5zM18 95h1v1h-1zM71 95h2v1h-2zM1 97h1v1h-1zM72 98h6v1h-6zM80 99h6v1h-6zM1 100h4v.971h-4zM42 100h2v.971h-2z"/>
<path fill="#2d8cf3" d="M69 5h1v1h-1zM0 13h31v1h-31zM65 13h1v1h-1zM16 24h1v1h-1zM32 24h2v1h-2zM50 24h2v1h-2zM53 24h1v1h-1zM34 41h4v1h-4zM1 48h1v1h-1zM22 48h1v1h-1zM4 50h1v1h-1zM18 50h1v1h-1zM42 52h1v1h-1zM49 53h3v1h-3zM29 56h2v1h-2zM112 56h1v1h-1zM126 56h1v1h-1zM65 57h1v1h-1zM126 58h1v1h-1zM37 60h1v1h-1zM53 60h4v1h-4zM106 60h1v1h-1zM129 60h1v1h-1zM115 61h1v1h-1zM127 61h1v1h-1zM11 62h1v1h-1zM116 62h2v1h-2zM12 63h1v1h-1zM117 63h1v1h-1zM119 64h1v1h-1zM31 65h1v1h-1zM4 66h29v1h-29zM34 66h6v1h-6zM65 66h1v1h-1zM33 68h1v1h-1zM66 72h1v1h-1zM70 72h2v1h-2zM68 73h1v1h-1zM74 73h2v1h-2zM74 74h2v1h-2zM0 75h7v1h-7zM46 75h3v1h-3zM64 75h1v1h-1zM4 76h1v1h-1zM64 76h1v1h-1zM67 76h1v1h-1zM6 77h2v1h-2zM17 77h1v1h-1zM76 78h3v1h-3zM125 79h1v1h-1zM61 85h1v1h-1zM76 85h1v1h-1zM75 89h1v1h-1zM41 94h1v1h-1zM69 94h1v1h-1zM0 97h1v1h-1zM41 97h1v1h-1zM79 99h1v1h-1z"/>
<path fill="#2c8ff1" d="M0 5h4v1h-4zM68 5h1v1h-1zM98 5h1v1h-1zM118 5h1v1h-1zM0 24h16v1h-16zM34 24h1v1h-1zM39 24h3v1h-3zM49 24h1v1h-1zM23 48h1v1h-1zM3 50h1v1h-1zM15 50h1v1h-1zM21 50h1v1h-1zM39 50h2v1h-2zM43 52h6v1h-6zM57 53h1v1h-1zM14 54h19v1h-19zM101 54h1v1h-1zM92 55h1v1h-1zM31 56h2v1h-2zM37 57h1v1h-1zM41 57h2v1h-2zM46 57h3v1h-3zM106 57h1v1h-1zM113 58h1v1h-1zM52 60h1v1h-1zM57 60h1v1h-1zM105 60h1v1h-1zM34 61h1v1h-1zM8 62h3v1h-3zM118 64h1v1h-1zM21 65h10v1h-10zM69 72h1v1h-1zM72 72h1v1h-1zM66 73h2v1h-2zM124 73h1v1h-1zM46 74h1v1h-1zM65 75h1v1h-1zM3 76h1v1h-1zM65 76h2v1h-2zM40 77h4v1h-4zM119 77h1v1h-1zM129 77h1v1h-1zM79 78h1v1h-1zM122 78h1v1h-1zM59 85h2v1h-2zM30 89h1v1h-1zM76 89h1v1h-1zM28 91h1v1h-1zM40 92h3v1h-3zM70 95h1v1h-1zM71 96h2v1h-2zM78 99h1v1h-1z"/>
<path fill="#2a92ee" d="M99 5h1v1h-1zM117 5h1v1h-1zM119 5h1v1h-1zM66 13h1v1h-1zM35 24h1v1h-1zM38 24h1v1h-1zM48 24h1v1h-1zM54 24h1v1h-1zM33 41h1v1h-1zM68 47h3v1h-3zM0 48h1v1h-1zM24 48h2v1h-2zM40 48h1v1h-1zM18 49h7v1h-7zM40 49h1v1h-1zM16 50h2v1h-2zM38 50h1v1h-1zM49 52h9v1h-9zM52 53h1v1h-1zM13 54h1v1h-1zM33 54h2v1h-2zM34 55h1v1h-1zM90 55h2v1h-2zM33 56h2v1h-2zM111 56h1v1h-1zM127 56h5v1h-5zM38 57h3v1h-3zM43 57h3v1h-3zM49 57h8v1h-8zM64 57h1v1h-1zM105 57h1v1h-1zM35 58h2v1h-2zM112 58h1v1h-1zM127 58h5v1h-5zM22 59h9v1h-9zM38 60h9v1h-9zM58 60h8v1h-8zM130 60h2v1h-2zM114 61h1v1h-1zM128 61h1v1h-1zM7 62h1v1h-1zM34 62h1v1h-1zM115 62h1v1h-1zM9 63h3v1h-3zM34 63h1v1h-1zM116 63h1v1h-1zM12 64h1v1h-1zM34 64h1v1h-1zM15 65h6v1h-6zM121 65h5v1h-5zM0 66h4v1h-4zM34 68h27v1h-27zM67 72h2v1h-2zM73 72h1v1h-1zM123 73h1v1h-1zM47 74h4v1h-4zM66 75h10v1h-10zM0 76h3v1h-3zM18 77h4v1h-4zM39 77h1v1h-1zM76 77h2v1h-2zM130 77h2v1h-2zM80 78h2v1h-2zM127 80h2v1h-2zM127 81h2v1h-2zM127 82h2v1h-2zM24 84h1v1h-1zM24 85h2v1h-2zM77 85h3v1h-3zM118 85h3v1h-3zM44 86h3v1h-3zM79 86h1v1h-1zM79 87h1v1h-1zM77 89h2v1h-2zM70 90h4v1h-4zM25 91h1v1h-1zM43 92h1v1h-1zM40 94h1v1h-1zM68 94h1v1h-1zM41 95h1v1h-1zM44 95h1v1h-1zM1 96h1v1h-1zM41 96h1v1h-1zM73 96h1v1h-1zM40 97h1v1h-1zM76 99h2v1h-2zM81 100h5v.971h-5z"/>
<path fill="#2895ec" d="M67 5h1v1h-1zM116 5h1v1h-1zM36 24h1v1h-1zM67 47h1v1h-1zM71 47h1v1h-1zM26 48h1v1h-1zM39 48h1v1h-1zM17 49h1v1h-1zM25 49h1v1h-1zM39 49h1v1h-1zM2 50h1v1h-1zM25 50h2v1h-2zM114 53h1v1h-1zM12 54h1v1h-1zM100 54h1v1h-1zM110 56h1v1h-1zM57 57h1v1h-1zM33 58h2v1h-2zM111 58h1v1h-1zM20 59h2v1h-2zM31 59h2v1h-2zM47 60h2v1h-2zM51 60h1v1h-1zM104 60h1v1h-1zM8 63h1v1h-1zM117 64h1v1h-1zM14 65h1v1h-1zM34 65h1v1h-1zM120 65h1v1h-1zM61 68h2v1h-2zM74 72h1v1h-1zM122 73h1v1h-1zM0 77h1v1h-1zM78 77h1v1h-1zM82 78h1v1h-1zM121 78h1v1h-1zM25 84h1v1h-1zM46 88h1v1h-1zM69 90h1v1h-1zM74 90h1v1h-1zM39 92h1v1h-1zM16 95h1v1h-1zM40 95h1v1h-1zM69 95h1v1h-1zM40 96h1v1h-1zM70 96h1v1h-1zM15 97h1v1h-1zM80 100h1v.971h-1z"/>
<path fill="#2699ea" d="M100 5h1v1h-1zM111 5h2v1h-2zM120 5h1v1h-1zM67 13h2v1h-2zM37 24h1v1h-1zM47 24h1v1h-1zM55 24h1v1h-1zM95 24h2v1h-2zM65 47h2v1h-2zM72 47h1v1h-1zM38 48h1v1h-1zM16 49h1v1h-1zM26 49h1v1h-1zM38 49h1v1h-1zM1 50h1v1h-1zM22 50h1v1h-1zM37 50h1v1h-1zM53 53h1v1h-1zM113 53h1v1h-1zM0 54h12v1h-12zM109 56h1v1h-1zM63 57h1v1h-1zM104 57h1v1h-1zM24 58h9v1h-9zM110 58h1v1h-1zM12 59h8v1h-8zM33 59h4v1h-4zM49 60h2v1h-2zM129 61h1v1h-1zM0 62h1v1h-1zM6 62h1v1h-1zM7 63h1v1h-1zM115 63h1v1h-1zM9 64h3v1h-3zM116 64h1v1h-1zM12 65h2v1h-2zM119 65h1v1h-1zM63 68h3v1h-3zM62 71h4v1h-4zM122 72h3v1h-3zM33 77h2v1h-2zM38 77h1v1h-1zM79 77h1v1h-1zM118 77h1v1h-1zM83 78h1v1h-1zM32 89h1v1h-1zM68 90h1v1h-1zM75 90h1v1h-1zM39 94h1v1h-1zM35 95h1v1h-1zM39 95h1v1h-1zM68 95h1v1h-1zM2 96h2v1h-2zM39 96h1v1h-1zM44 96h1v1h-1zM74 96h1v1h-1zM14 97h1v1h-1zM39 97h1v1h-1zM78 100h2v.971h-2z"/>
<path fill="#259ce7" d="M66 5h1v1h-1zM101 5h1v1h-1zM105 5h2v1h-2zM113 5h1v1h-1zM115 5h1v1h-1zM69 13h1v1h-1zM94 24h1v1h-1zM97 24h1v1h-1zM77 44h3v1h-3zM64 47h1v1h-1zM73 47h1v1h-1zM15 49h1v1h-1zM27 49h1v1h-1zM37 49h1v1h-1zM23 50h2v1h-2zM36 50h1v1h-1zM41 51h2v1h-2zM56 53h1v1h-1zM99 54h1v1h-1zM58 57h1v1h-1zM62 57h1v1h-1zM20 58h4v1h-4zM11 59h1v1h-1zM130 61h1v1h-1zM1 62h2v1h-2zM5 62h1v1h-1zM114 62h1v1h-1zM8 64h1v1h-1zM11 65h1v1h-1zM118 65h1v1h-1zM32 68h1v1h-1zM61 71h1v1h-1zM75 72h1v1h-1zM121 72h1v1h-1zM32 77h1v1h-1zM35 77h1v1h-1zM37 77h1v1h-1zM31 89h1v1h-1zM44 92h1v1h-1zM17 95h1v1h-1zM13 97h1v1h-1zM77 100h1v.971h-1z"/>
<path fill="#249fe6" d="M48 2h18v1h-18zM102 5h3v1h-3zM107 5h1v1h-1zM110 5h1v1h-1zM114 5h1v1h-1zM130 5h2v1h-2zM70 13h1v1h-1zM46 24h1v1h-1zM56 24h1v1h-1zM93 24h1v1h-1zM32 41h1v1h-1zM71 44h6v1h-6zM80 44h2v1h-2zM96 44h5v1h-5zM64 45h17v1h-17zM34 47h30v1h-30zM74 47h1v1h-1zM37 48h1v1h-1zM14 49h1v1h-1zM28 49h1v1h-1zM0 50h1v1h-1zM35 50h1v1h-1zM43 51h2v1h-2zM112 51h2v1h-2zM119 51h13v1h-13zM54 53h1v1h-1zM108 56h1v1h-1zM59 57h3v1h-3zM103 57h1v1h-1zM12 58h8v1h-8zM65 58h1v1h-1zM109 58h1v1h-1zM10 59h1v1h-1zM96 60h3v1h-3zM103 60h1v1h-1zM35 61h1v1h-1zM57 61h6v1h-6zM113 61h1v1h-1zM131 61h1v1h-1zM3 62h2v1h-2zM56 62h7v1h-7zM0 63h1v1h-1zM6 63h1v1h-1zM7 64h1v1h-1zM8 65h3v1h-3zM26 68h6v1h-6zM34 71h27v1h-27zM66 71h1v1h-1zM121 73h1v1h-1zM31 77h1v1h-1zM36 77h1v1h-1zM63 77h3v1h-3zM80 77h1v1h-1zM117 77h1v1h-1zM84 78h1v1h-1zM120 78h1v1h-1zM83 79h3v1h-3zM120 79h2v1h-2zM83 80h3v1h-3zM120 81h1v1h-1zM120 82h1v1h-1zM127 83h1v1h-1zM44 85h3v1h-3zM47 87h1v1h-1zM45 88h1v1h-1zM116 89h2v1h-2zM33 90h1v1h-1zM67 90h1v1h-1zM76 90h1v1h-1zM116 90h2v1h-2zM38 92h1v1h-1zM40 93h2v1h-2zM38 94h1v1h-1zM38 95h1v1h-1zM69 96h1v1h-1zM12 97h1v1h-1zM44 97h1v1h-1zM69 97h3v1h-3zM76 100h1v.971h-1z"/>
<path fill="#22a1e4" d="M108 5h2v1h-2zM121 5h1v1h-1zM128 5h2v1h-2zM100 7h8v1h-8zM66 10h32v1h-32zM87 18h14v1h-14zM45 24h1v1h-1zM27 41h2v1h-2zM34 44h19v1h-19zM82 44h5v1h-5zM101 44h13v1h-13zM34 45h17v1h-17zM56 45h8v1h-8zM81 45h5v1h-5zM100 45h32v1h-32zM34 46h15v1h-15zM66 46h6v1h-6zM33 47h1v1h-1zM75 47h10v1h-10zM12 49h2v1h-2zM29 49h3v1h-3zM36 49h1v1h-1zM45 51h4v1h-4zM114 51h1v1h-1zM11 58h1v1h-1zM64 58h1v1h-1zM56 61h1v1h-1zM1 63h2v1h-2zM5 63h1v1h-1zM114 63h1v1h-1zM0 64h1v1h-1zM115 64h1v1h-1zM7 65h1v1h-1zM117 65h1v1h-1zM121 70h4v1h-4zM121 71h4v1h-4zM120 72h1v1h-1zM122 74h2v1h-2zM29 77h2v1h-2zM119 78h1v1h-1zM119 79h1v1h-1zM119 81h1v1h-1zM58 82h1v1h-1zM119 82h1v1h-1zM120 83h1v1h-1zM128 83h1v1h-1zM46 84h1v1h-1zM120 84h1v1h-1zM63 88h1v1h-1zM117 88h1v1h-1zM30 91h1v1h-1zM37 95h1v1h-1zM4 96h1v1h-1zM38 96h1v1h-1zM68 96h1v1h-1zM11 97h1v1h-1zM75 100h1v.971h-1z"/>
<path fill="#20a4e3" d="M80 -.539h1v.539h-1zM47 2h1v1h-1zM66 2h27v1h-27zM66 3h31v1h-31zM65 5h1v1h-1zM127 5h1v1h-1zM81 7h11v1h-11zM99 7h1v1h-1zM10 9h8v1h-8zM35 9h29v1h-29zM98 10h1v1h-1zM71 13h1v1h-1zM55 16h21v1h-21zM86 18h1v1h-1zM101 18h20v1h-20zM57 24h1v1h-1zM98 24h1v1h-1zM95 28h2v1h-2zM114 28h2v1h-2zM18 38h15v1h-15zM101 39h31v1h-31zM24 41h3v1h-3zM29 41h3v1h-3zM35 43h24v1h-24zM103 43h9v1h-9zM33 44h1v1h-1zM53 44h18v1h-18zM87 44h9v1h-9zM114 44h5v1h-5zM32 45h2v1h-2zM55 45h1v1h-1zM99 45h1v1h-1zM33 46h1v1h-1zM58 46h8v1h-8zM81 46h3v1h-3zM114 47h1v1h-1zM36 48h1v1h-1zM114 48h1v1h-1zM11 49h1v1h-1zM32 49h1v1h-1zM35 49h1v1h-1zM47 49h2v1h-2zM66 49h1v1h-1zM80 49h5v1h-5zM114 49h1v1h-1zM34 50h1v1h-1zM85 50h1v1h-1zM113 50h2v1h-2zM118 51h1v1h-1zM69 52h1v1h-1zM55 53h1v1h-1zM70 53h3v1h-3zM112 53h1v1h-1zM98 54h1v1h-1zM107 56h1v1h-1zM98 57h3v1h-3zM102 57h1v1h-1zM10 58h1v1h-1zM108 58h1v1h-1zM0 59h5v1h-5zM9 59h1v1h-1zM97 59h2v1h-2zM116 59h8v1h-8zM99 60h1v1h-1zM36 61h2v1h-2zM63 61h3v1h-3zM112 61h1v1h-1zM51 62h5v1h-5zM63 62h3v1h-3zM113 62h1v1h-1zM3 63h2v1h-2zM51 63h15v1h-15zM1 64h1v1h-1zM6 64h1v1h-1zM53 64h13v1h-13zM6 65h1v1h-1zM35 65h1v1h-1zM116 65h1v1h-1zM18 68h8v1h-8zM72 70h3v1h-3zM24 71h10v1h-10zM67 71h17v1h-17zM76 72h1v1h-1zM118 73h3v1h-3zM124 74h1v1h-1zM123 75h2v1h-2zM76 76h2v1h-2zM123 76h2v1h-2zM28 77h1v1h-1zM61 77h2v1h-2zM81 77h1v1h-1zM85 78h1v1h-1zM125 78h1v1h-1zM118 80h1v1h-1zM120 80h1v1h-1zM118 81h1v1h-1zM47 82h1v1h-1zM57 82h1v1h-1zM118 82h1v1h-1zM119 83h1v1h-1zM27 84h1v1h-1zM44 84h2v1h-2zM57 84h2v1h-2zM119 84h1v1h-1zM57 86h2v1h-2zM57 87h2v1h-2zM116 87h2v1h-2zM64 88h1v1h-1zM116 88h1v1h-1zM24 89h1v1h-1zM27 89h1v1h-1zM16 90h1v1h-1zM29 90h1v1h-1zM66 90h1v1h-1zM77 90h9v1h-9zM32 91h2v1h-2zM66 91h2v1h-2zM37 92h1v1h-1zM68 92h5v1h-5zM39 93h1v1h-1zM24 95h1v1h-1zM74 95h1v1h-1zM11 96h1v1h-1zM46 96h1v1h-1zM5 97h1v1h-1zM68 97h1v1h-1zM6 98h3v1h-3zM15 98h1v1h-1zM41 98h1v1h-1zM44 98h1v1h-1zM70 98h2v1h-2zM5 99h1v1h-1zM13 99h3v1h-3zM44 99h1v1h-1zM70 99h2v1h-2z"/>
<path fill="#1ea7e1" d="M97 3h2v1h-2zM126 5h1v1h-1zM92 7h1v1h-1zM108 7h1v1h-1zM8 9h2v1h-2zM18 9h2v1h-2zM33 9h2v1h-2zM64 9h1v1h-1zM54 16h1v1h-1zM121 18h1v1h-1zM130 24h2v1h-2zM54 27h1v1h-1zM94 28h1v1h-1zM97 28h1v1h-1zM116 28h1v1h-1zM33 38h1v1h-1zM97 39h4v1h-4zM23 41h1v1h-1zM33 43h2v1h-2zM59 43h1v1h-1zM78 43h3v1h-3zM102 43h1v1h-1zM112 43h1v1h-1zM32 44h1v1h-1zM119 44h1v1h-1zM31 45h1v1h-1zM51 45h1v1h-1zM86 45h1v1h-1zM98 45h1v1h-1zM32 46h1v1h-1zM57 46h1v1h-1zM72 46h1v1h-1zM80 46h1v1h-1zM84 46h1v1h-1zM32 47h1v1h-1zM85 47h1v1h-1zM113 47h1v1h-1zM28 48h3v1h-3zM113 48h1v1h-1zM10 49h1v1h-1zM33 49h2v1h-2zM46 49h1v1h-1zM67 49h1v1h-1zM79 49h1v1h-1zM85 49h1v1h-1zM113 49h1v1h-1zM28 50h1v1h-1zM84 50h1v1h-1zM4 52h1v1h-1zM68 52h1v1h-1zM78 53h1v1h-1zM101 57h1v1h-1zM63 58h1v1h-1zM5 59h1v1h-1zM8 59h1v1h-1zM115 59h1v1h-1zM124 59h2v1h-2zM102 60h1v1h-1zM55 61h1v1h-1zM2 64h1v1h-1zM52 64h1v1h-1zM5 65h1v1h-1zM71 66h1v1h-1zM71 70h1v1h-1zM75 70h1v1h-1zM120 70h1v1h-1zM22 71h2v1h-2zM84 71h1v1h-1zM120 71h1v1h-1zM122 75h1v1h-1zM78 76h1v1h-1zM122 76h1v1h-1zM60 77h1v1h-1zM82 77h1v1h-1zM116 77h1v1h-1zM119 80h1v1h-1zM48 82h1v1h-1zM118 83h1v1h-1zM118 84h1v1h-1zM65 88h1v1h-1zM73 92h1v1h-1zM87 92h1v1h-1zM103 92h1v1h-1zM29 95h1v1h-1zM12 96h2v1h-2zM37 96h1v1h-1zM38 97h1v1h-1zM9 98h1v1h-1zM40 98h1v1h-1zM69 98h1v1h-1zM12 99h1v1h-1zM69 99h1v1h-1zM72 99h1v1h-1z"/>
<path fill="#1caadf" d="M26 1h5v1h-5zM39 1h25v1h-25zM107 1h25v1h-25zM26 2h5v1h-5zM46 2h1v1h-1zM99 3h20v1h-20zM64 5h1v1h-1zM122 5h1v1h-1zM49 7h15v1h-15zM76 7h5v1h-5zM98 7h1v1h-1zM1 9h7v1h-7zM20 9h13v1h-13zM65 9h1v1h-1zM99 10h1v1h-1zM41 16h2v1h-2zM85 18h1v1h-1zM122 18h10v1h-10zM58 24h1v1h-1zM53 27h1v1h-1zM55 27h1v1h-1zM81 27h7v1h-7zM95 27h2v1h-2zM123 27h5v1h-5zM24 28h5v1h-5zM98 28h1v1h-1zM117 28h1v1h-1zM123 28h1v1h-1zM34 38h14v1h-14zM59 38h10v1h-10zM115 38h17v1h-17zM43 39h54v1h-54zM33 40h28v1h-28zM77 40h8v1h-8zM22 41h1v1h-1zM29 42h22v1h-22zM29 43h4v1h-4zM70 43h8v1h-8zM81 43h4v1h-4zM93 43h4v1h-4zM101 43h1v1h-1zM113 43h1v1h-1zM23 44h9v1h-9zM120 44h1v1h-1zM22 45h9v1h-9zM52 45h1v1h-1zM54 45h1v1h-1zM87 45h1v1h-1zM92 45h6v1h-6zM24 46h8v1h-8zM56 46h1v1h-1zM79 46h1v1h-1zM114 46h1v1h-1zM29 47h3v1h-3zM112 47h1v1h-1zM31 48h1v1h-1zM35 48h1v1h-1zM112 48h1v1h-1zM7 49h3v1h-3zM45 49h1v1h-1zM63 49h3v1h-3zM68 49h1v1h-1zM78 49h1v1h-1zM112 49h1v1h-1zM29 50h2v1h-2zM33 50h1v1h-1zM83 50h1v1h-1zM112 50h1v1h-1zM85 51h1v1h-1zM3 52h1v1h-1zM63 52h3v1h-3zM67 52h1v1h-1zM77 53h1v1h-1zM96 54h2v1h-2zM2 58h4v1h-4zM9 58h1v1h-1zM62 58h1v1h-1zM107 58h1v1h-1zM6 59h2v1h-2zM114 59h1v1h-1zM126 59h6v1h-6zM100 60h2v1h-2zM52 61h3v1h-3zM131 62h1v1h-1zM3 64h3v1h-3zM51 64h1v1h-1zM114 64h1v1h-1zM0 65h5v1h-5zM36 65h1v1h-1zM52 65h14v1h-14zM70 66h1v1h-1zM72 66h1v1h-1zM125 66h1v1h-1zM36 67h25v1h-25zM1 68h10v1h-10zM122 69h1v1h-1zM70 70h1v1h-1zM76 70h1v1h-1zM85 70h1v1h-1zM18 71h4v1h-4zM85 71h1v1h-1zM77 72h2v1h-2zM78 73h1v1h-1zM78 74h1v1h-1zM121 75h1v1h-1zM121 76h1v1h-1zM25 77h1v1h-1zM59 77h1v1h-1zM83 77h1v1h-1zM85 77h1v1h-1zM115 77h1v1h-1zM83 81h1v1h-1zM49 82h1v1h-1zM83 82h1v1h-1zM57 83h2v1h-2zM83 83h1v1h-1zM83 84h1v1h-1zM83 85h1v1h-1zM85 86h1v1h-1zM113 88h1v1h-1zM113 89h1v1h-1zM18 90h1v1h-1zM112 90h1v1h-1zM110 91h4v1h-4zM77 92h2v1h-2zM86 92h1v1h-1zM102 92h1v1h-1zM2 93h1v1h-1zM38 93h1v1h-1zM66 93h2v1h-2zM39 98h1v1h-1zM68 98h1v1h-1zM11 99h1v1h-1zM68 99h1v1h-1zM73 99h1v1h-1zM44 100h1v.971h-1z"/>
<path fill="#19addc" d="M25 1h1v1h-1zM31 1h1v1h-1zM38 1h1v1h-1zM64 1h1v1h-1zM105 1h2v1h-2zM19 2h2v1h-2zM24 2h2v1h-2zM31 2h2v1h-2zM105 2h1v1h-1zM119 3h1v1h-1zM19 5h2v1h-2zM125 5h1v1h-1zM48 7h1v1h-1zM64 7h1v1h-1zM75 7h1v1h-1zM93 7h1v1h-1zM0 9h1v1h-1zM72 13h1v1h-1zM33 16h1v1h-1zM38 16h3v1h-3zM43 16h1v1h-1zM53 16h1v1h-1zM52 18h1v1h-1zM84 18h1v1h-1zM47 27h2v1h-2zM52 27h1v1h-1zM56 27h1v1h-1zM94 27h1v1h-1zM97 27h1v1h-1zM122 27h1v1h-1zM128 27h1v1h-1zM23 28h1v1h-1zM29 28h1v1h-1zM93 28h1v1h-1zM118 28h1v1h-1zM121 28h2v1h-2zM124 28h1v1h-1zM48 38h1v1h-1zM53 38h2v1h-2zM69 38h1v1h-1zM114 38h1v1h-1zM42 39h1v1h-1zM61 40h1v1h-1zM76 40h1v1h-1zM85 40h1v1h-1zM28 42h1v1h-1zM51 42h1v1h-1zM28 43h1v1h-1zM60 43h1v1h-1zM69 43h1v1h-1zM85 43h1v1h-1zM92 43h1v1h-1zM97 43h1v1h-1zM114 43h1v1h-1zM22 44h1v1h-1zM121 44h1v1h-1zM53 45h1v1h-1zM90 45h2v1h-2zM23 46h1v1h-1zM55 46h1v1h-1zM85 46h1v1h-1zM113 46h1v1h-1zM28 47h1v1h-1zM111 47h1v1h-1zM32 48h3v1h-3zM6 49h1v1h-1zM44 49h1v1h-1zM62 49h1v1h-1zM31 50h2v1h-2zM84 51h1v1h-1zM117 51h1v1h-1zM66 52h1v1h-1zM95 54h1v1h-1zM1 58h1v1h-1zM6 58h3v1h-3zM61 58h1v1h-1zM113 59h1v1h-1zM51 61h1v1h-1zM97 61h1v1h-1zM111 61h1v1h-1zM112 62h1v1h-1zM130 62h1v1h-1zM113 63h1v1h-1zM37 65h1v1h-1zM51 65h1v1h-1zM115 65h1v1h-1zM124 66h1v1h-1zM35 67h1v1h-1zM61 67h2v1h-2zM0 68h1v1h-1zM11 68h1v1h-1zM121 69h1v1h-1zM17 71h1v1h-1zM119 72h1v1h-1zM76 73h2v1h-2zM76 74h2v1h-2zM79 76h1v1h-1zM84 77h1v1h-1zM26 84h1v1h-1zM83 86h1v1h-1zM112 88h1v1h-1zM112 89h1v1h-1zM111 90h1v1h-1zM109 91h1v1h-1zM76 92h1v1h-1zM79 92h2v1h-2zM85 92h1v1h-1zM3 93h1v1h-1zM37 93h1v1h-1zM36 96h1v1h-1zM67 97h1v1h-1zM69 100h3v.971h-3z"/>
<path fill="#15afd9" d="M24 1h1v1h-1zM32 1h1v1h-1zM37 1h1v1h-1zM103 1h2v1h-2zM21 2h3v1h-3zM33 2h2v1h-2zM45 2h1v1h-1zM103 2h2v1h-2zM120 3h1v1h-1zM7 5h1v1h-1zM23 5h1v1h-1zM123 5h2v1h-2zM65 7h1v1h-1zM74 7h1v1h-1zM94 7h1v1h-1zM97 7h1v1h-1zM109 7h1v1h-1zM66 9h2v1h-2zM0 10h1v1h-1zM31 16h2v1h-2zM34 16h4v1h-4zM44 16h1v1h-1zM52 16h1v1h-1zM53 18h1v1h-1zM44 24h1v1h-1zM45 27h2v1h-2zM49 27h3v1h-3zM57 27h1v1h-1zM80 27h1v1h-1zM88 27h1v1h-1zM93 27h1v1h-1zM121 27h1v1h-1zM129 27h1v1h-1zM22 28h1v1h-1zM119 28h2v1h-2zM125 28h1v1h-1zM49 38h1v1h-1zM55 38h1v1h-1zM58 38h1v1h-1zM41 39h1v1h-1zM31 40h2v1h-2zM75 40h1v1h-1zM27 42h1v1h-1zM52 42h1v1h-1zM58 42h2v1h-2zM27 43h1v1h-1zM68 43h1v1h-1zM86 43h1v1h-1zM91 43h1v1h-1zM98 43h1v1h-1zM100 43h1v1h-1zM115 43h1v1h-1zM122 44h1v1h-1zM21 45h1v1h-1zM88 45h2v1h-2zM22 46h1v1h-1zM54 46h1v1h-1zM73 46h1v1h-1zM112 46h1v1h-1zM86 47h1v1h-1zM27 48h1v1h-1zM5 49h1v1h-1zM41 49h1v1h-1zM43 49h1v1h-1zM61 49h1v1h-1zM69 49h1v1h-1zM27 50h1v1h-1zM111 50h1v1h-1zM116 51h1v1h-1zM2 52h1v1h-1zM94 54h1v1h-1zM106 56h1v1h-1zM97 57h1v1h-1zM0 58h1v1h-1zM37 58h1v1h-1zM112 59h1v1h-1zM129 62h1v1h-1zM35 64h2v1h-2zM50 65h1v1h-1zM69 66h1v1h-1zM73 66h1v1h-1zM34 67h1v1h-1zM63 67h1v1h-1zM12 68h1v1h-1zM123 69h1v1h-1zM84 70h1v1h-1zM76 75h1v1h-1zM80 76h1v1h-1zM27 77h1v1h-1zM114 77h1v1h-1zM118 78h1v1h-1zM118 79h1v1h-1zM129 80h2v1h-2zM80 81h3v1h-3zM117 81h1v1h-1zM129 81h2v1h-2zM56 82h1v1h-1zM80 82h3v1h-3zM117 82h1v1h-1zM129 82h2v1h-2zM47 83h1v1h-1zM80 83h3v1h-3zM80 84h3v1h-3zM85 84h1v1h-1zM126 84h1v1h-1zM80 85h3v1h-3zM85 85h1v1h-1zM80 86h2v1h-2zM117 86h1v1h-1zM80 87h2v1h-2zM111 88h1v1h-1zM115 88h1v1h-1zM111 89h1v1h-1zM113 90h1v1h-1zM75 92h1v1h-1zM81 92h2v1h-2zM84 92h1v1h-1zM100 92h2v1h-2zM4 93h1v1h-1zM35 96h1v1h-1zM38 98h1v1h-1zM67 98h1v1h-1zM67 99h1v1h-1zM74 99h1v1h-1zM68 100h1v.971h-1zM72 100h1v.971h-1z"/>
<path fill="#11b1d6" d="M23 1h1v1h-1zM33 1h1v1h-1zM36 1h1v1h-1zM65 1h1v1h-1zM100 1h3v1h-3zM4 2h12v1h-12zM18 2h1v1h-1zM35 2h10v1h-10zM100 2h3v1h-3zM106 2h1v1h-1zM121 3h1v1h-1zM8 5h1v1h-1zM47 7h1v1h-1zM66 7h1v1h-1zM73 7h1v1h-1zM95 7h2v1h-2zM68 9h2v1h-2zM1 10h2v1h-2zM100 10h1v1h-1zM73 13h1v1h-1zM25 16h6v1h-6zM45 16h2v1h-2zM50 16h2v1h-2zM83 18h1v1h-1zM94 23h5v1h-5zM129 24h1v1h-1zM27 27h18v1h-18zM58 27h11v1h-11zM98 27h1v1h-1zM120 27h1v1h-1zM130 27h1v1h-1zM30 28h1v1h-1zM39 28h2v1h-2zM53 28h2v1h-2zM99 28h1v1h-1zM126 28h1v1h-1zM70 38h1v1h-1zM23 40h8v1h-8zM62 40h2v1h-2zM74 40h1v1h-1zM86 40h1v1h-1zM102 40h11v1h-11zM26 42h1v1h-1zM53 42h1v1h-1zM57 42h1v1h-1zM60 42h1v1h-1zM105 42h9v1h-9zM26 43h1v1h-1zM61 43h1v1h-1zM67 43h1v1h-1zM87 43h1v1h-1zM90 43h1v1h-1zM99 43h1v1h-1zM116 43h4v1h-4zM21 44h1v1h-1zM123 44h4v1h-4zM50 46h4v1h-4zM78 46h1v1h-1zM86 46h1v1h-1zM111 46h1v1h-1zM27 47h1v1h-1zM110 47h1v1h-1zM46 48h3v1h-3zM66 48h3v1h-3zM111 48h1v1h-1zM42 49h1v1h-1zM60 49h1v1h-1zM77 49h1v1h-1zM111 49h1v1h-1zM48 50h1v1h-1zM82 50h1v1h-1zM83 51h1v1h-1zM114 52h1v1h-1zM111 53h1v1h-1zM57 56h9v1h-9zM38 58h6v1h-6zM60 58h1v1h-1zM106 58h1v1h-1zM109 59h3v1h-3zM98 61h1v1h-1zM128 62h1v1h-1zM113 64h1v1h-1zM123 66h1v1h-1zM64 67h1v1h-1zM122 68h2v1h-2zM71 69h5v1h-5zM120 69h1v1h-1zM124 69h1v1h-1zM69 70h1v1h-1zM77 70h1v1h-1zM83 70h1v1h-1zM119 70h1v1h-1zM86 71h1v1h-1zM119 71h1v1h-1zM118 72h1v1h-1zM121 74h1v1h-1zM125 74h1v1h-1zM128 74h1v1h-1zM77 75h1v1h-1zM120 75h1v1h-1zM81 76h2v1h-2zM120 76h1v1h-1zM58 77h1v1h-1zM131 80h1v1h-1zM85 81h1v1h-1zM131 81h1v1h-1zM85 82h1v1h-1zM131 82h1v1h-1zM85 83h1v1h-1zM117 83h1v1h-1zM117 84h1v1h-1zM82 86h1v1h-1zM116 86h1v1h-1zM82 87h2v1h-2zM19 90h1v1h-1zM110 90h1v1h-1zM79 91h1v1h-1zM83 92h1v1h-1zM94 92h6v1h-6zM1 93h1v1h-1zM25 94h1v1h-1zM46 94h1v1h-1zM46 95h1v1h-1zM10 97h1v1h-1zM66 97h1v1h-1zM11 98h1v1h-1zM10 99h1v1h-1zM40 99h2v1h-2zM0 100h1v.971h-1zM12 100h1v.971h-1zM73 100h1v.971h-1z"/>
<path fill="#0ab4d2" d="M35 -.539h15v.539h-15zM58 -.539h1v.539h-1zM46 0h18v1h-18zM15 1h8v1h-8zM34 1h2v1h-2zM99 1h1v1h-1zM0 2h4v1h-4zM16 2h1v1h-1zM99 2h1v1h-1zM122 3h10v1h-10zM95 4h2v1h-2zM9 5h2v1h-2zM18 5h1v1h-1zM67 7h6v1h-6zM110 7h3v1h-3zM70 9h1v1h-1zM101 10h4v1h-4zM68 14h23v1h-23zM23 16h2v1h-2zM47 16h3v1h-3zM125 16h7v1h-7zM101 17h12v1h-12zM54 18h1v1h-1zM82 18h1v1h-1zM68 21h29v1h-29zM93 23h1v1h-1zM99 23h20v1h-20zM59 24h1v1h-1zM95 26h2v1h-2zM116 26h3v1h-3zM26 27h1v1h-1zM69 27h2v1h-2zM79 27h1v1h-1zM89 27h1v1h-1zM92 27h1v1h-1zM114 27h6v1h-6zM131 27h1v1h-1zM21 28h1v1h-1zM38 28h1v1h-1zM55 28h1v1h-1zM92 28h1v1h-1zM127 28h5v1h-5zM95 29h2v1h-2zM21 31h10v1h-10zM123 31h3v1h-3zM68 37h4v1h-4zM40 39h1v1h-1zM22 40h1v1h-1zM64 40h2v1h-2zM72 40h2v1h-2zM113 40h2v1h-2zM24 42h2v1h-2zM54 42h3v1h-3zM81 42h6v1h-6zM103 42h2v1h-2zM114 42h5v1h-5zM24 43h2v1h-2zM66 43h1v1h-1zM88 43h2v1h-2zM120 43h1v1h-1zM127 44h1v1h-1zM20 45h1v1h-1zM21 46h1v1h-1zM74 46h4v1h-4zM26 47h1v1h-1zM87 47h2v1h-2zM65 48h1v1h-1zM89 48h1v1h-1zM58 49h2v1h-2zM70 49h1v1h-1zM89 49h1v1h-1zM47 50h1v1h-1zM66 50h2v1h-2zM81 50h1v1h-1zM110 50h1v1h-1zM58 52h1v1h-1zM62 52h1v1h-1zM76 53h1v1h-1zM108 53h3v1h-3zM93 54h1v1h-1zM64 55h2v1h-2zM56 56h1v1h-1zM105 56h1v1h-1zM52 58h2v1h-2zM97 58h2v1h-2zM62 59h4v1h-4zM108 59h1v1h-1zM110 61h1v1h-1zM35 62h3v1h-3zM111 62h1v1h-1zM127 62h1v1h-1zM35 63h2v1h-2zM112 63h1v1h-1zM37 64h1v1h-1zM50 64h1v1h-1zM39 65h3v1h-3zM49 65h1v1h-1zM114 65h1v1h-1zM66 66h3v1h-3zM74 66h2v1h-2zM122 66h1v1h-1zM33 67h1v1h-1zM65 67h1v1h-1zM84 67h3v1h-3zM13 68h1v1h-1zM82 68h2v1h-2zM121 68h1v1h-1zM70 69h1v1h-1zM76 69h1v1h-1zM84 69h1v1h-1zM66 70h3v1h-3zM0 71h8v1h-8zM87 71h5v1h-5zM78 75h1v1h-1zM83 76h3v1h-3zM126 79h2v1h-2zM50 82h1v1h-1zM48 83h1v1h-1zM56 83h1v1h-1zM84 84h1v1h-1zM127 84h1v1h-1zM26 85h1v1h-1zM84 85h1v1h-1zM117 85h1v1h-1zM84 87h2v1h-2zM110 88h1v1h-1zM47 89h1v1h-1zM110 89h1v1h-1zM20 90h1v1h-1zM24 91h1v1h-1zM27 91h1v1h-1zM80 91h1v1h-1zM74 92h1v1h-1zM11 93h1v1h-1zM65 93h1v1h-1zM67 94h1v1h-1zM28 95h1v1h-1zM15 96h1v1h-1zM12 98h1v1h-1zM35 98h1v1h-1zM66 98h1v1h-1zM35 99h1v1h-1zM39 99h1v1h-1zM66 99h1v1h-1zM75 99h1v1h-1zM5 100h1v.971h-1zM35 100h1v.971h-1zM41 100h1v.971h-1zM67 100h1v.971h-1z"/>
<path fill="#05b6ce" d="M33 -.539h2v.539h-2zM50 -.539h1v.539h-1zM57 -.539h1v.539h-1zM59 -.539h1v.539h-1zM64 -.539h2v.539h-2zM45 0h1v1h-1zM64 0h2v1h-2zM14 1h1v1h-1zM66 1h1v1h-1zM107 2h1v1h-1zM94 4h1v1h-1zM97 4h2v1h-2zM116 4h14v1h-14zM6 5h1v1h-1zM11 5h1v1h-1zM22 5h1v1h-1zM63 5h1v1h-1zM68 6h23v1h-23zM46 7h1v1h-1zM71 9h1v1h-1zM131 9h1v1h-1zM3 10h1v1h-1zM17 10h3v1h-3zM105 10h2v1h-2zM101 12h18v1h-18zM125 12h5v1h-5zM66 14h2v1h-2zM91 14h1v1h-1zM101 15h11v1h-11zM16 16h7v1h-7zM124 16h1v1h-1zM100 17h1v1h-1zM113 17h1v1h-1zM7 18h1v1h-1zM55 18h9v1h-9zM81 18h1v1h-1zM35 21h33v1h-33zM97 21h2v1h-2zM37 22h18v1h-18zM93 22h4v1h-4zM109 22h14v1h-14zM119 23h1v1h-1zM42 24h1v1h-1zM95 25h2v1h-2zM116 25h3v1h-3zM94 26h1v1h-1zM97 26h1v1h-1zM115 26h1v1h-1zM119 26h2v1h-2zM71 27h8v1h-8zM91 27h1v1h-1zM2 28h19v1h-19zM41 28h1v1h-1zM56 28h1v1h-1zM94 29h1v1h-1zM97 29h1v1h-1zM95 30h2v1h-2zM20 31h1v1h-1zM31 31h16v1h-16zM55 31h14v1h-14zM95 31h2v1h-2zM122 31h1v1h-1zM126 31h1v1h-1zM66 37h2v1h-2zM72 37h1v1h-1zM116 37h14v1h-14zM56 38h1v1h-1zM71 38h1v1h-1zM35 39h5v1h-5zM66 40h1v1h-1zM70 40h2v1h-2zM87 40h1v1h-1zM91 40h3v1h-3zM95 40h1v1h-1zM101 40h1v1h-1zM115 40h4v1h-4zM21 41h1v1h-1zM22 42h2v1h-2zM61 42h1v1h-1zM79 42h2v1h-2zM87 42h1v1h-1zM102 42h1v1h-1zM119 42h1v1h-1zM23 43h1v1h-1zM62 43h4v1h-4zM20 44h1v1h-1zM18 46h3v1h-3zM49 46h1v1h-1zM87 46h1v1h-1zM110 46h1v1h-1zM109 47h1v1h-1zM45 48h1v1h-1zM64 48h1v1h-1zM88 48h1v1h-1zM110 48h1v1h-1zM56 49h2v1h-2zM71 49h1v1h-1zM87 49h2v1h-2zM46 50h1v1h-1zM68 50h1v1h-1zM80 50h1v1h-1zM109 50h1v1h-1zM82 51h1v1h-1zM115 51h1v1h-1zM59 52h1v1h-1zM92 54h1v1h-1zM97 56h2v1h-2zM51 58h1v1h-1zM54 58h2v1h-2zM59 58h1v1h-1zM99 58h1v1h-1zM105 58h1v1h-1zM60 59h2v1h-2zM37 63h1v1h-1zM42 65h1v1h-1zM76 66h1v1h-1zM121 66h1v1h-1zM83 67h1v1h-1zM84 68h2v1h-2zM124 68h1v1h-1zM83 69h1v1h-1zM85 69h1v1h-1zM125 69h1v1h-1zM78 70h1v1h-1zM118 70h1v1h-1zM8 71h2v1h-2zM92 71h1v1h-1zM118 71h1v1h-1zM85 72h1v1h-1zM85 73h1v1h-1zM127 74h1v1h-1zM119 75h1v1h-1zM119 76h1v1h-1zM24 77h1v1h-1zM57 77h1v1h-1zM113 77h1v1h-1zM128 79h1v1h-1zM84 81h1v1h-1zM116 81h1v1h-1zM54 82h1v1h-1zM84 82h1v1h-1zM116 82h1v1h-1zM49 83h1v1h-1zM84 83h1v1h-1zM116 83h1v1h-1zM130 83h1v1h-1zM116 84h1v1h-1zM128 84h1v1h-1zM116 85h1v1h-1zM85 88h1v1h-1zM85 89h1v1h-1zM93 92h1v1h-1zM5 93h1v1h-1zM12 93h1v1h-1zM35 94h1v1h-1zM34 96h1v1h-1zM9 99h1v1h-1zM39 100h2v.971h-2zM74 100h1v.971h-1z"/>
<path fill="#01b8ca" d="M60 -.539h1v.539h-1zM63 -.539h1v.539h-1zM66 -.539h1v.539h-1zM44 0h1v1h-1zM66 0h1v1h-1zM98 2h1v1h-1zM93 4h1v1h-1zM99 4h1v1h-1zM115 4h1v1h-1zM130 4h2v1h-2zM17 5h1v1h-1zM66 6h2v1h-2zM91 6h1v1h-1zM113 7h1v1h-1zM130 9h1v1h-1zM7 10h3v1h-3zM20 10h1v1h-1zM107 10h1v1h-1zM99 12h2v1h-2zM119 12h1v1h-1zM124 12h1v1h-1zM130 12h2v1h-2zM74 13h1v1h-1zM100 15h1v1h-1zM112 15h1v1h-1zM14 16h2v1h-2zM123 16h1v1h-1zM99 17h1v1h-1zM6 18h1v1h-1zM8 18h1v1h-1zM64 18h1v1h-1zM130 20h2v1h-2zM31 21h4v1h-4zM36 22h1v1h-1zM55 22h1v1h-1zM92 22h1v1h-1zM97 22h2v1h-2zM108 22h1v1h-1zM123 22h1v1h-1zM92 23h1v1h-1zM120 23h1v1h-1zM43 24h1v1h-1zM100 24h1v1h-1zM94 25h1v1h-1zM97 25h1v1h-1zM115 25h1v1h-1zM119 25h1v1h-1zM98 26h1v1h-1zM114 26h1v1h-1zM121 26h2v1h-2zM130 26h2v1h-2zM25 27h1v1h-1zM99 27h1v1h-1zM0 28h2v1h-2zM31 28h1v1h-1zM37 28h1v1h-1zM52 28h1v1h-1zM57 28h1v1h-1zM91 28h1v1h-1zM93 29h1v1h-1zM98 29h1v1h-1zM94 30h1v1h-1zM97 30h1v1h-1zM19 31h1v1h-1zM47 31h1v1h-1zM54 31h1v1h-1zM69 31h1v1h-1zM93 31h2v1h-2zM97 31h1v1h-1zM114 31h3v1h-3zM121 31h1v1h-1zM127 31h1v1h-1zM130 33h2v1h-2zM73 37h1v1h-1zM115 37h1v1h-1zM130 37h2v1h-2zM6 38h1v1h-1zM96 38h1v1h-1zM34 39h1v1h-1zM21 40h1v1h-1zM90 40h1v1h-1zM94 40h1v1h-1zM119 40h1v1h-1zM88 42h1v1h-1zM92 42h3v1h-3zM101 42h1v1h-1zM120 42h1v1h-1zM121 43h1v1h-1zM17 45h1v1h-1zM19 45h1v1h-1zM16 46h2v1h-2zM88 46h2v1h-2zM25 47h1v1h-1zM89 47h1v1h-1zM41 48h1v1h-1zM44 48h1v1h-1zM63 48h1v1h-1zM80 48h2v1h-2zM83 48h3v1h-3zM87 48h1v1h-1zM76 49h1v1h-1zM110 49h1v1h-1zM41 50h2v1h-2zM45 50h1v1h-1zM65 50h1v1h-1zM119 50h2v1h-2zM60 52h1v1h-1zM55 56h1v1h-1zM96 56h1v1h-1zM104 56h1v1h-1zM50 58h1v1h-1zM56 58h1v1h-1zM96 58h1v1h-1zM107 59h1v1h-1zM109 61h1v1h-1zM128 63h2v1h-2zM42 64h2v1h-2zM112 64h1v1h-1zM47 65h1v1h-1zM32 67h1v1h-1zM66 67h1v1h-1zM82 67h1v1h-1zM87 67h1v1h-1zM124 67h2v1h-2zM14 68h1v1h-1zM120 68h1v1h-1zM69 69h1v1h-1zM77 69h1v1h-1zM119 69h1v1h-1zM79 70h1v1h-1zM82 70h1v1h-1zM10 71h1v1h-1zM79 75h1v1h-1zM118 75h1v1h-1zM26 77h1v1h-1zM56 77h1v1h-1zM51 82h3v1h-3zM55 82h1v1h-1zM131 83h1v1h-1zM23 84h1v1h-1zM130 84h2v1h-2zM17 90h1v1h-1zM21 90h1v1h-1zM109 90h1v1h-1zM115 90h1v1h-1zM25 92h1v1h-1zM46 92h1v1h-1zM9 93h1v1h-1zM13 93h1v1h-1zM34 94h1v1h-1zM37 94h1v1h-1zM36 95h1v1h-1zM8 99h1v1h-1zM66 100h1v.971h-1z"/>
<path fill="#01b9c6" d="M31 -.539h2v.539h-2zM51 -.539h1v.539h-1zM56 -.539h1v.539h-1zM67 0h1v1h-1zM67 1h1v1h-1zM97 2h1v1h-1zM100 4h1v1h-1zM114 4h1v1h-1zM64 6h2v1h-2zM72 9h1v1h-1zM129 9h1v1h-1zM6 10h1v1h-1zM15 10h2v1h-2zM22 10h1v1h-1zM108 10h5v1h-5zM99 11h10v1h-10zM115 11h5v1h-5zM97 12h2v1h-2zM120 12h1v1h-1zM123 12h1v1h-1zM75 13h1v1h-1zM77 13h1v1h-1zM64 14h2v1h-2zM92 14h1v1h-1zM99 15h1v1h-1zM113 15h1v1h-1zM122 16h1v1h-1zM98 17h1v1h-1zM5 18h1v1h-1zM9 18h1v1h-1zM65 18h1v1h-1zM92 19h9v1h-9zM99 20h31v1h-31zM24 21h7v1h-7zM99 21h1v1h-1zM31 22h3v1h-3zM35 22h1v1h-1zM56 22h1v1h-1zM91 22h1v1h-1zM99 22h1v1h-1zM107 22h1v1h-1zM124 22h1v1h-1zM91 23h1v1h-1zM121 23h1v1h-1zM60 24h2v1h-2zM101 24h1v1h-1zM114 24h1v1h-1zM93 25h1v1h-1zM98 25h1v1h-1zM114 25h1v1h-1zM120 25h1v1h-1zM93 26h1v1h-1zM123 26h7v1h-7zM36 28h1v1h-1zM100 28h1v1h-1zM92 29h1v1h-1zM98 30h1v1h-1zM115 30h5v1h-5zM48 31h1v1h-1zM53 31h1v1h-1zM98 31h1v1h-1zM117 31h1v1h-1zM128 31h1v1h-1zM70 32h29v1h-29zM115 33h15v1h-15zM70 34h10v1h-10zM81 34h20v1h-20zM70 35h16v1h-16zM90 35h6v1h-6zM64 36h32v1h-32zM64 37h2v1h-2zM96 37h5v1h-5zM114 37h1v1h-1zM7 38h1v1h-1zM50 38h1v1h-1zM72 38h1v1h-1zM97 38h2v1h-2zM33 39h1v1h-1zM20 40h1v1h-1zM67 40h3v1h-3zM88 40h2v1h-2zM120 40h1v1h-1zM21 42h1v1h-1zM62 42h1v1h-1zM78 42h1v1h-1zM89 42h1v1h-1zM91 42h1v1h-1zM121 42h1v1h-1zM22 43h1v1h-1zM122 43h1v1h-1zM19 44h1v1h-1zM128 44h1v1h-1zM18 45h1v1h-1zM14 46h2v1h-2zM109 46h1v1h-1zM23 47h2v1h-2zM42 48h1v1h-1zM79 48h1v1h-1zM109 48h1v1h-1zM54 49h2v1h-2zM72 49h1v1h-1zM44 50h1v1h-1zM79 50h1v1h-1zM108 50h1v1h-1zM118 50h1v1h-1zM81 51h1v1h-1zM91 54h1v1h-1zM54 56h1v1h-1zM99 56h1v1h-1zM96 57h1v1h-1zM57 58h2v1h-2zM100 58h1v1h-1zM104 58h1v1h-1zM58 59h2v1h-2zM106 59h1v1h-1zM110 62h1v1h-1zM127 63h1v1h-1zM130 63h1v1h-1zM43 65h1v1h-1zM46 65h1v1h-1zM77 66h1v1h-1zM120 66h1v1h-1zM67 67h1v1h-1zM73 67h9v1h-9zM88 67h1v1h-1zM118 67h6v1h-6zM86 68h1v1h-1zM119 68h1v1h-1zM68 69h1v1h-1zM81 70h1v1h-1zM11 71h1v1h-1zM93 71h1v1h-1zM125 73h1v1h-1zM85 74h1v1h-1zM80 75h1v1h-1zM118 76h1v1h-1zM117 78h1v1h-1zM117 79h1v1h-1zM53 83h2v1h-2zM52 86h2v1h-2zM83 88h1v1h-1zM83 89h1v1h-1zM81 91h1v1h-1zM35 92h1v1h-1zM8 93h1v1h-1zM15 93h1v1h-1zM63 93h1v1h-1zM34 95h1v1h-1zM14 96h1v1h-1z"/>
<path fill="#04bbc2" d="M13 -.539h18v.539h-18zM67 -.539h1v.539h-1zM72 -.539h5v.539h-5zM78 -.539h2v.539h-2zM81 -.539h4v.539h-4zM88 -.539h37v.539h-37zM68 0h5v1h-5zM100 0h5v1h-5zM68 1h5v1h-5zM93 2h2v1h-2zM96 2h1v1h-1zM108 2h1v1h-1zM2 3h11v1h-11zM17 3h10v1h-10zM63 3h3v1h-3zM34 4h28v1h-28zM101 4h9v1h-9zM13 5h1v1h-1zM34 6h12v1h-12zM56 6h8v1h-8zM92 6h1v1h-1zM0 7h14v1h-14zM45 7h1v1h-1zM34 8h5v1h-5zM44 8h3v1h-3zM55 8h37v1h-37zM98 8h22v1h-22zM128 9h1v1h-1zM10 10h2v1h-2zM13 10h2v1h-2zM23 10h1v1h-1zM62 10h4v1h-4zM113 10h1v1h-1zM34 11h8v1h-8zM46 11h9v1h-9zM59 11h7v1h-7zM97 11h2v1h-2zM109 11h1v1h-1zM114 11h1v1h-1zM120 11h1v1h-1zM39 12h24v1h-24zM83 12h14v1h-14zM42 14h5v1h-5zM48 14h16v1h-16zM100 14h13v1h-13zM34 15h13v1h-13zM49 15h17v1h-17zM98 15h1v1h-1zM76 16h2v1h-2zM101 16h6v1h-6zM48 17h20v1h-20zM97 17h1v1h-1zM0 18h1v1h-1zM10 18h1v1h-1zM66 18h1v1h-1zM91 19h1v1h-1zM101 19h3v1h-3zM107 19h25v1h-25zM45 20h6v1h-6zM55 20h10v1h-10zM97 20h2v1h-2zM23 21h1v1h-1zM100 21h1v1h-1zM102 21h4v1h-4zM20 22h11v1h-11zM57 22h2v1h-2zM69 23h22v1h-22zM122 23h1v1h-1zM92 24h1v1h-1zM92 25h1v1h-1zM99 25h1v1h-1zM113 25h1v1h-1zM121 25h1v1h-1zM99 26h1v1h-1zM113 26h1v1h-1zM24 27h1v1h-1zM100 27h1v1h-1zM32 28h1v1h-1zM35 28h1v1h-1zM58 28h1v1h-1zM101 28h1v1h-1zM91 29h1v1h-1zM99 29h1v1h-1zM114 29h7v1h-7zM93 30h1v1h-1zM99 30h1v1h-1zM114 30h1v1h-1zM120 30h1v1h-1zM129 31h1v1h-1zM20 32h40v1h-40zM69 32h1v1h-1zM99 32h2v1h-2zM24 33h41v1h-41zM70 33h5v1h-5zM80 33h25v1h-25zM109 33h1v1h-1zM114 33h1v1h-1zM69 34h1v1h-1zM80 34h1v1h-1zM101 34h3v1h-3zM114 34h3v1h-3zM69 35h1v1h-1zM86 35h4v1h-4zM96 35h1v1h-1zM99 35h33v1h-33zM45 36h19v1h-19zM96 36h1v1h-1zM99 36h15v1h-15zM22 37h27v1h-27zM54 37h2v1h-2zM58 37h6v1h-6zM95 37h1v1h-1zM101 37h3v1h-3zM113 37h1v1h-1zM8 38h1v1h-1zM17 38h1v1h-1zM21 39h1v1h-1zM32 39h1v1h-1zM19 40h1v1h-1zM20 42h1v1h-1zM63 42h3v1h-3zM77 42h1v1h-1zM90 42h1v1h-1zM122 42h1v1h-1zM125 43h5v1h-5zM16 44h3v1h-3zM16 45h1v1h-1zM11 46h3v1h-3zM4 49h1v1h-1zM51 49h3v1h-3zM129 50h3v1h-3zM80 51h1v1h-1zM110 51h2v1h-2zM0 52h1v1h-1zM113 52h1v1h-1zM75 53h1v1h-1zM35 54h7v1h-7zM90 54h1v1h-1zM63 55h1v1h-1zM89 55h1v1h-1zM49 56h5v1h-5zM95 56h1v1h-1zM95 57h1v1h-1zM95 58h1v1h-1zM37 59h2v1h-2zM51 59h7v1h-7zM96 59h1v1h-1zM105 59h1v1h-1zM38 61h2v1h-2zM96 61h1v1h-1zM108 61h1v1h-1zM43 62h1v1h-1zM96 62h2v1h-2zM42 63h2v1h-2zM131 63h1v1h-1zM41 64h1v1h-1zM113 65h1v1h-1zM82 66h4v1h-4zM0 67h9v1h-9zM31 67h1v1h-1zM68 67h5v1h-5zM89 67h10v1h-10zM117 67h1v1h-1zM15 68h1v1h-1zM74 68h3v1h-3zM66 69h2v1h-2zM78 69h1v1h-1zM118 69h1v1h-1zM125 70h1v1h-1zM12 71h2v1h-2zM125 71h1v1h-1zM117 72h1v1h-1zM125 72h1v1h-1zM128 73h1v1h-1zM81 75h5v1h-5zM125 76h1v1h-1zM52 77h3v1h-3zM22 84h1v1h-1zM22 85h2v1h-2zM56 86h1v1h-1zM115 86h1v1h-1zM62 88h1v1h-1zM22 89h2v1h-2zM26 89h1v1h-1zM81 89h1v1h-1zM115 89h1v1h-1zM47 90h1v1h-1zM86 90h2v1h-2zM103 90h2v1h-2zM31 91h1v1h-1zM36 92h1v1h-1zM47 93h1v1h-1zM8 97h1v1h-1zM37 97h1v1h-1zM38 99h1v1h-1zM38 100h1v.971h-1z"/>
<path fill="#0abdbd" d="M12 -.539h1v.539h-1zM68 -.539h1v.539h-1zM71 -.539h1v.539h-1zM85 -.539h1v.539h-1zM87 -.539h1v.539h-1zM99 0h1v1h-1zM105 0h1v1h-1zM73 1h2v1h-2zM1 3h1v1h-1zM13 3h1v1h-1zM16 3h1v1h-1zM33 4h1v1h-1zM62 4h1v1h-1zM110 4h1v1h-1zM55 5h1v1h-1zM33 6h1v1h-1zM46 6h1v1h-1zM55 6h1v1h-1zM99 6h10v1h-10zM110 6h3v1h-3zM14 7h1v1h-1zM33 8h1v1h-1zM47 8h1v1h-1zM54 8h1v1h-1zM92 8h1v1h-1zM97 8h1v1h-1zM120 8h1v1h-1zM126 9h2v1h-2zM55 10h1v1h-1zM58 10h2v1h-2zM61 10h1v1h-1zM130 10h2v1h-2zM33 11h1v1h-1zM55 11h1v1h-1zM58 11h1v1h-1zM78 11h19v1h-19zM110 11h4v1h-4zM121 11h2v1h-2zM131 11h1v1h-1zM38 12h1v1h-1zM63 12h1v1h-1zM82 12h1v1h-1zM76 13h1v1h-1zM14 14h4v1h-4zM41 14h1v1h-1zM99 14h1v1h-1zM33 15h1v1h-1zM66 15h2v1h-2zM97 15h1v1h-1zM78 16h1v1h-1zM100 16h1v1h-1zM47 17h1v1h-1zM68 17h2v1h-2zM76 17h19v1h-19zM96 17h1v1h-1zM2 18h1v1h-1zM67 18h3v1h-3zM89 19h2v1h-2zM44 20h1v1h-1zM51 20h1v1h-1zM54 20h1v1h-1zM65 20h1v1h-1zM83 20h14v1h-14zM107 21h3v1h-3zM59 22h1v1h-1zM100 22h1v1h-1zM44 23h3v1h-3zM68 23h1v1h-1zM123 23h8v1h-8zM91 25h1v1h-1zM100 25h1v1h-1zM112 25h1v1h-1zM122 25h1v1h-1zM131 25h1v1h-1zM66 26h24v1h-24zM100 26h1v1h-1zM112 26h1v1h-1zM23 27h1v1h-1zM101 27h4v1h-4zM48 28h2v1h-2zM89 28h1v1h-1zM102 28h3v1h-3zM113 28h1v1h-1zM64 29h27v1h-27zM100 29h1v1h-1zM112 29h2v1h-2zM33 30h5v1h-5zM41 30h9v1h-9zM53 30h15v1h-15zM100 30h1v1h-1zM112 30h2v1h-2zM121 30h2v1h-2zM131 30h1v1h-1zM130 31h2v1h-2zM19 32h1v1h-1zM60 32h1v1h-1zM101 32h28v1h-28zM65 33h1v1h-1zM69 33h1v1h-1zM77 33h2v1h-2zM105 33h1v1h-1zM108 33h1v1h-1zM110 33h1v1h-1zM31 34h6v1h-6zM42 34h12v1h-12zM57 34h1v1h-1zM104 34h2v1h-2zM112 34h2v1h-2zM117 34h1v1h-1zM22 35h15v1h-15zM40 35h21v1h-21zM44 36h1v1h-1zM114 36h2v1h-2zM21 37h1v1h-1zM49 37h1v1h-1zM53 37h1v1h-1zM104 37h1v1h-1zM112 37h1v1h-1zM16 38h1v1h-1zM100 38h2v1h-2zM19 39h2v1h-2zM22 39h2v1h-2zM31 39h1v1h-1zM18 40h1v1h-1zM125 40h7v1h-7zM19 42h1v1h-1zM76 42h1v1h-1zM123 42h9v1h-9zM16 43h1v1h-1zM129 44h1v1h-1zM22 47h1v1h-1zM118 48h2v1h-2zM50 49h1v1h-1zM109 49h1v1h-1zM128 50h1v1h-1zM79 51h1v1h-1zM109 51h1v1h-1zM73 53h2v1h-2zM56 54h1v1h-1zM101 58h1v1h-1zM39 59h1v1h-1zM50 59h1v1h-1zM95 59h1v1h-1zM104 59h1v1h-1zM95 60h1v1h-1zM41 61h1v1h-1zM95 61h1v1h-1zM42 62h1v1h-1zM50 62h1v1h-1zM95 62h1v1h-1zM127 64h2v1h-2zM88 65h1v1h-1zM93 65h1v1h-1zM81 66h1v1h-1zM22 67h9v1h-9zM77 68h1v1h-1zM87 68h1v1h-1zM91 68h1v1h-1zM118 68h1v1h-1zM79 69h1v1h-1zM81 69h1v1h-1zM83 74h1v1h-1zM119 74h1v1h-1zM125 75h1v1h-1zM44 77h1v1h-1zM117 80h1v1h-1zM50 83h1v1h-1zM52 83h1v1h-1zM81 88h1v1h-1zM105 90h1v1h-1zM108 90h1v1h-1zM82 91h1v1h-1zM22 95h2v1h-2zM67 96h1v1h-1zM13 98h1v1h-1z"/>
<path fill="#12beb9" d="M61 -.539h2v.539h-2zM33 0h5v1h-5zM73 0h6v1h-6zM114 0h1v1h-1zM121 0h11v1h-11zM75 1h1v1h-1zM96 1h1v1h-1zM98 1h1v1h-1zM17 2h1v1h-1zM110 2h2v1h-2zM55 3h1v1h-1zM62 3h1v1h-1zM82 4h1v1h-1zM84 4h9v1h-9zM4 5h2v1h-2zM26 5h1v1h-1zM113 6h1v1h-1zM19 7h12v1h-12zM44 7h1v1h-1zM39 8h5v1h-5zM104 9h2v1h-2zM121 9h3v1h-3zM4 10h2v1h-2zM54 10h1v1h-1zM114 10h8v1h-8zM129 10h1v1h-1zM42 11h4v1h-4zM66 11h4v1h-4zM77 11h1v1h-1zM123 11h8v1h-8zM66 12h5v1h-5zM121 12h2v1h-2zM18 14h1v1h-1zM113 14h1v1h-1zM47 15h2v1h-2zM68 15h3v1h-3zM76 15h21v1h-21zM114 15h7v1h-7zM12 16h1v1h-1zM107 16h1v1h-1zM121 16h1v1h-1zM1 18h1v1h-1zM11 18h1v1h-1zM48 18h1v1h-1zM44 19h22v1h-22zM82 19h1v1h-1zM84 19h5v1h-5zM104 19h3v1h-3zM82 20h1v1h-1zM110 21h1v1h-1zM114 21h2v1h-2zM0 22h20v1h-20zM125 22h7v1h-7zM33 23h3v1h-3zM43 23h1v1h-1zM48 23h5v1h-5zM0 25h33v1h-33zM35 25h24v1h-24zM67 25h1v1h-1zM82 25h9v1h-9zM101 25h11v1h-11zM123 25h8v1h-8zM33 26h33v1h-33zM101 26h5v1h-5zM107 26h5v1h-5zM90 27h1v1h-1zM105 27h1v1h-1zM107 27h4v1h-4zM47 28h1v1h-1zM87 28h2v1h-2zM105 28h1v1h-1zM107 28h6v1h-6zM33 29h31v1h-31zM101 29h11v1h-11zM121 29h11v1h-11zM20 30h13v1h-13zM68 30h7v1h-7zM77 30h8v1h-8zM101 30h11v1h-11zM123 30h8v1h-8zM0 31h19v1h-19zM70 31h9v1h-9zM99 31h5v1h-5zM118 31h3v1h-3zM19 33h5v1h-5zM75 33h2v1h-2zM22 34h9v1h-9zM37 34h5v1h-5zM56 34h1v1h-1zM59 34h2v1h-2zM106 34h6v1h-6zM97 35h2v1h-2zM97 36h2v1h-2zM116 36h16v1h-16zM56 37h2v1h-2zM74 37h2v1h-2zM87 37h1v1h-1zM92 37h1v1h-1zM108 37h1v1h-1zM110 37h2v1h-2zM95 38h1v1h-1zM112 38h1v1h-1zM24 39h4v1h-4zM19 41h2v1h-2zM66 42h2v1h-2zM95 42h6v1h-6zM17 43h3v1h-3zM123 43h2v1h-2zM130 43h2v1h-2zM92 47h2v1h-2zM106 47h3v1h-3zM128 47h2v1h-2zM62 48h1v1h-1zM1 49h1v1h-1zM64 50h1v1h-1zM81 52h1v1h-1zM43 54h1v1h-1zM64 54h1v1h-1zM39 56h5v1h-5zM42 59h2v1h-2zM42 61h2v1h-2zM50 61h1v1h-1zM93 62h1v1h-1zM98 62h1v1h-1zM41 63h1v1h-1zM93 63h1v1h-1zM110 63h2v1h-2zM88 64h4v1h-4zM93 64h1v1h-1zM89 65h3v1h-3zM9 67h4v1h-4zM21 67h1v1h-1zM17 68h1v1h-1zM73 68h1v1h-1zM90 68h1v1h-1zM92 68h1v1h-1zM14 71h2v1h-2zM83 72h1v1h-1zM83 73h1v1h-1zM79 74h1v1h-1zM118 74h1v1h-1zM130 74h2v1h-2zM45 77h1v1h-1zM128 78h1v1h-1zM130 79h2v1h-2zM116 80h1v1h-1zM53 84h1v1h-1zM52 85h2v1h-2zM115 87h1v1h-1zM35 97h1v1h-1zM7 100h1v.971h-1z"/>
<path fill="#1ac0b5" d="M3 -.539h2v.539h-2zM6 -.539h1v.539h-1zM8 -.539h4v.539h-4zM52 -.539h4v.539h-4zM69 -.539h2v.539h-2zM77 -.539h1v.539h-1zM0 0h10v1h-10zM12 0h10v1h-10zM24 0h9v1h-9zM109 0h2v1h-2zM113 0h1v1h-1zM116 0h1v1h-1zM120 0h1v1h-1zM12 1h1v1h-1zM76 1h1v1h-1zM90 1h1v1h-1zM95 2h1v1h-1zM14 3h2v1h-2zM54 3h1v1h-1zM58 3h2v1h-2zM0 4h5v1h-5zM6 4h8v1h-8zM16 4h17v1h-17zM63 4h5v1h-5zM77 4h3v1h-3zM111 4h3v1h-3zM12 5h1v1h-1zM16 5h1v1h-1zM21 5h1v1h-1zM58 5h1v1h-1zM62 5h1v1h-1zM10 6h23v1h-23zM50 6h5v1h-5zM97 6h2v1h-2zM109 6h1v1h-1zM115 6h6v1h-6zM124 6h1v1h-1zM38 7h1v1h-1zM16 8h17v1h-17zM48 8h4v1h-4zM93 8h4v1h-4zM121 8h9v1h-9zM73 9h2v1h-2zM77 9h1v1h-1zM100 9h2v1h-2zM124 9h2v1h-2zM12 10h1v1h-1zM21 10h1v1h-1zM24 10h3v1h-3zM56 10h2v1h-2zM125 10h2v1h-2zM56 11h2v1h-2zM10 12h10v1h-10zM22 12h16v1h-16zM64 12h2v1h-2zM76 12h6v1h-6zM101 13h1v1h-1zM104 13h1v1h-1zM126 13h1v1h-1zM129 13h2v1h-2zM11 14h3v1h-3zM34 14h4v1h-4zM47 14h1v1h-1zM93 14h2v1h-2zM96 14h3v1h-3zM115 14h6v1h-6zM125 14h7v1h-7zM11 15h22v1h-22zM71 15h5v1h-5zM121 15h11v1h-11zM4 16h3v1h-3zM9 16h1v1h-1zM79 16h1v1h-1zM96 16h1v1h-1zM98 16h2v1h-2zM110 16h1v1h-1zM115 16h2v1h-2zM120 16h1v1h-1zM0 17h17v1h-17zM18 17h15v1h-15zM38 17h8v1h-8zM70 17h6v1h-6zM95 17h1v1h-1zM115 17h6v1h-6zM126 17h6v1h-6zM3 18h2v1h-2zM12 18h1v1h-1zM27 18h2v1h-2zM47 18h1v1h-1zM49 18h3v1h-3zM70 18h5v1h-5zM77 18h3v1h-3zM0 19h7v1h-7zM8 19h36v1h-36zM66 19h4v1h-4zM0 20h16v1h-16zM24 20h9v1h-9zM38 20h6v1h-6zM52 20h2v1h-2zM69 20h6v1h-6zM0 21h1v1h-1zM6 21h3v1h-3zM16 21h7v1h-7zM101 21h1v1h-1zM106 21h1v1h-1zM116 21h5v1h-5zM34 22h1v1h-1zM60 22h8v1h-8zM82 22h1v1h-1zM90 22h1v1h-1zM101 22h6v1h-6zM16 23h17v1h-17zM42 23h1v1h-1zM56 23h2v1h-2zM131 23h1v1h-1zM62 24h1v1h-1zM99 24h1v1h-1zM102 24h2v1h-2zM115 24h1v1h-1zM120 24h1v1h-1zM126 24h3v1h-3zM0 26h5v1h-5zM7 26h26v1h-26zM90 26h3v1h-3zM6 27h1v1h-1zM42 28h4v1h-4zM50 28h2v1h-2zM67 28h1v1h-1zM76 28h4v1h-4zM90 28h1v1h-1zM23 29h10v1h-10zM38 30h3v1h-3zM50 30h3v1h-3zM75 30h2v1h-2zM49 31h4v1h-4zM79 31h4v1h-4zM61 32h8v1h-8zM129 32h1v1h-1zM66 33h3v1h-3zM79 33h1v1h-1zM106 33h2v1h-2zM16 34h6v1h-6zM54 34h2v1h-2zM58 34h1v1h-1zM65 34h4v1h-4zM121 34h4v1h-4zM16 35h6v1h-6zM37 35h3v1h-3zM61 35h8v1h-8zM22 36h1v1h-1zM25 36h6v1h-6zM33 36h4v1h-4zM40 36h4v1h-4zM6 37h6v1h-6zM16 37h5v1h-5zM50 37h3v1h-3zM78 37h1v1h-1zM88 37h1v1h-1zM91 37h1v1h-1zM93 37h2v1h-2zM105 37h3v1h-3zM109 37h1v1h-1zM9 38h3v1h-3zM15 38h1v1h-1zM57 38h1v1h-1zM73 38h2v1h-2zM87 38h2v1h-2zM91 38h1v1h-1zM99 38h1v1h-1zM102 38h2v1h-2zM110 38h1v1h-1zM16 40h2v1h-2zM99 40h2v1h-2zM121 40h4v1h-4zM17 42h2v1h-2zM70 42h2v1h-2zM73 42h3v1h-3zM20 43h2v1h-2zM92 46h2v1h-2zM106 46h3v1h-3zM128 46h2v1h-2zM16 47h2v1h-2zM20 47h1v1h-1zM94 47h5v1h-5zM104 47h2v1h-2zM125 47h3v1h-3zM130 47h2v1h-2zM43 48h1v1h-1zM59 48h1v1h-1zM77 48h2v1h-2zM115 48h3v1h-3zM120 48h1v1h-1zM124 48h5v1h-5zM86 49h1v1h-1zM43 50h1v1h-1zM69 50h2v1h-2zM78 50h1v1h-1zM106 50h2v1h-2zM115 50h3v1h-3zM125 50h3v1h-3zM63 51h2v1h-2zM68 51h1v1h-1zM61 52h1v1h-1zM79 52h2v1h-2zM82 52h1v1h-1zM84 52h2v1h-2zM111 52h1v1h-1zM42 54h1v1h-1zM47 54h1v1h-1zM55 54h1v1h-1zM61 54h1v1h-1zM63 54h1v1h-1zM65 54h1v1h-1zM89 54h1v1h-1zM61 55h1v1h-1zM36 56h2v1h-2zM93 56h2v1h-2zM100 56h2v1h-2zM103 56h1v1h-1zM66 57h2v1h-2zM93 57h2v1h-2zM46 58h2v1h-2zM49 58h1v1h-1zM93 58h2v1h-2zM102 58h2v1h-2zM40 59h2v1h-2zM93 59h2v1h-2zM93 60h2v1h-2zM40 61h1v1h-1zM90 61h2v1h-2zM93 61h2v1h-2zM106 61h2v1h-2zM89 62h3v1h-3zM94 62h1v1h-1zM108 62h2v1h-2zM39 63h1v1h-1zM46 63h2v1h-2zM50 63h1v1h-1zM85 63h1v1h-1zM88 63h4v1h-4zM97 63h1v1h-1zM126 63h1v1h-1zM39 64h1v1h-1zM47 64h1v1h-1zM97 64h1v1h-1zM110 64h2v1h-2zM129 64h3v1h-3zM44 65h2v1h-2zM83 65h3v1h-3zM92 65h1v1h-1zM97 65h1v1h-1zM112 65h1v1h-1zM129 65h3v1h-3zM78 66h3v1h-3zM117 66h3v1h-3zM99 67h1v1h-1zM114 67h3v1h-3zM89 68h1v1h-1zM93 68h1v1h-1zM116 68h2v1h-2zM125 68h1v1h-1zM82 69h1v1h-1zM86 69h1v1h-1zM117 69h1v1h-1zM117 70h1v1h-1zM94 71h3v1h-3zM117 71h1v1h-1zM79 72h1v1h-1zM81 72h1v1h-1zM79 73h1v1h-1zM81 73h1v1h-1zM117 73h1v1h-1zM126 73h2v1h-2zM130 73h2v1h-2zM84 74h1v1h-1zM120 74h1v1h-1zM126 74h1v1h-1zM117 75h1v1h-1zM116 76h2v1h-2zM23 77h1v1h-1zM46 77h1v1h-1zM51 77h1v1h-1zM55 77h1v1h-1zM112 77h1v1h-1zM116 78h1v1h-1zM127 78h1v1h-1zM131 78h1v1h-1zM86 79h1v1h-1zM116 79h1v1h-1zM86 80h1v1h-1zM115 81h1v1h-1zM115 82h1v1h-1zM55 83h1v1h-1zM129 83h1v1h-1zM52 84h1v1h-1zM54 84h1v1h-1zM56 84h1v1h-1zM115 84h1v1h-1zM129 84h1v1h-1zM54 85h1v1h-1zM56 85h1v1h-1zM115 85h1v1h-1zM54 86h1v1h-1zM84 86h1v1h-1zM49 87h1v1h-1zM52 87h2v1h-2zM60 88h1v1h-1zM79 88h1v1h-1zM114 88h1v1h-1zM63 89h1v1h-1zM65 89h1v1h-1zM79 89h1v1h-1zM28 90h1v1h-1zM106 90h1v1h-1zM85 91h1v1h-1zM87 91h1v1h-1zM104 91h2v1h-2zM108 91h1v1h-1zM24 92h1v1h-1zM34 92h1v1h-1zM67 92h1v1h-1zM88 92h1v1h-1zM91 92h2v1h-2zM0 93h1v1h-1zM50 93h1v1h-1zM64 93h1v1h-1zM26 95h1v1h-1zM32 95h2v1h-2zM67 95h1v1h-1zM10 96h1v1h-1zM9 97h1v1h-1zM25 97h1v1h-1zM46 98h1v1h-1zM46 99h1v1h-1z"/>
<path fill="#21c1b0" d="M38 0h4v1h-4zM43 0h1v1h-1zM79 0h16v1h-16zM96 0h3v1h-3zM106 0h3v1h-3zM115 0h1v1h-1zM117 0h1v1h-1zM5 1h1v1h-1zM77 1h1v1h-1zM97 1h1v1h-1zM109 2h1v1h-1zM112 2h2v1h-2zM0 3h1v1h-1zM61 3h1v1h-1zM68 4h3v1h-3zM80 4h2v1h-2zM83 4h1v1h-1zM14 5h1v1h-1zM24 5h2v1h-2zM54 5h1v1h-1zM4 6h2v1h-2zM47 6h3v1h-3zM93 6h2v1h-2zM126 6h6v1h-6zM15 7h1v1h-1zM35 7h1v1h-1zM115 7h1v1h-1zM10 8h6v1h-6zM102 9h2v1h-2zM106 9h2v1h-2zM114 9h1v1h-1zM28 10h1v1h-1zM53 10h1v1h-1zM60 10h1v1h-1zM127 10h2v1h-2zM0 11h33v1h-33zM70 11h7v1h-7zM71 12h4v1h-4zM103 13h1v1h-1zM127 13h2v1h-2zM0 14h6v1h-6zM19 14h7v1h-7zM29 14h5v1h-5zM39 14h2v1h-2zM122 14h3v1h-3zM83 16h2v1h-2zM90 16h1v1h-1zM108 16h2v1h-2zM114 16h1v1h-1zM33 17h1v1h-1zM44 18h2v1h-2zM77 19h3v1h-3zM83 19h1v1h-1zM16 20h8v1h-8zM33 20h5v1h-5zM66 20h3v1h-3zM121 21h4v1h-4zM0 23h5v1h-5zM6 23h7v1h-7zM36 23h1v1h-1zM47 23h1v1h-1zM53 23h1v1h-1zM59 23h3v1h-3zM67 23h1v1h-1zM121 24h1v1h-1zM123 24h1v1h-1zM33 25h2v1h-2zM59 25h7v1h-7zM76 25h6v1h-6zM106 26h1v1h-1zM7 27h2v1h-2zM106 27h1v1h-1zM33 28h1v1h-1zM59 28h5v1h-5zM68 28h3v1h-3zM82 28h5v1h-5zM0 30h20v1h-20zM85 30h8v1h-8zM0 32h2v1h-2zM6 32h8v1h-8zM16 32h3v1h-3zM6 33h3v1h-3zM16 33h3v1h-3zM111 33h3v1h-3zM6 34h5v1h-5zM61 34h2v1h-2zM118 34h3v1h-3zM125 34h4v1h-4zM6 35h3v1h-3zM0 36h6v1h-6zM8 36h14v1h-14zM31 36h2v1h-2zM76 37h2v1h-2zM80 37h1v1h-1zM89 37h2v1h-2zM51 38h2v1h-2zM93 38h1v1h-1zM104 38h1v1h-1zM113 38h1v1h-1zM28 39h3v1h-3zM96 40h3v1h-3zM68 42h2v1h-2zM96 46h3v1h-3zM12 47h1v1h-1zM91 47h1v1h-1zM102 47h2v1h-2zM69 48h2v1h-2zM82 48h1v1h-1zM86 48h1v1h-1zM106 48h3v1h-3zM129 48h1v1h-1zM2 49h1v1h-1zM49 49h1v1h-1zM73 49h3v1h-3zM92 49h1v1h-1zM106 49h3v1h-3zM59 50h1v1h-1zM63 50h1v1h-1zM77 50h1v1h-1zM86 50h1v1h-1zM65 51h1v1h-1zM1 52h1v1h-1zM109 52h1v1h-1zM87 53h1v1h-1zM46 54h1v1h-1zM56 55h1v1h-1zM44 58h1v1h-1zM66 58h2v1h-2zM49 59h1v1h-1zM90 59h2v1h-2zM99 59h2v1h-2zM41 62h1v1h-1zM49 62h1v1h-1zM92 63h1v1h-1zM40 64h1v1h-1zM46 64h1v1h-1zM49 64h1v1h-1zM84 64h2v1h-2zM92 64h1v1h-1zM126 64h1v1h-1zM13 67h2v1h-2zM18 67h3v1h-3zM16 68h1v1h-1zM70 68h1v1h-1zM78 68h2v1h-2zM80 70h1v1h-1zM116 72h1v1h-1zM81 74h2v1h-2zM49 77h1v1h-1zM115 83h1v1h-1zM51 86h1v1h-1zM48 87h1v1h-1zM112 87h3v1h-3zM25 90h1v1h-1zM29 92h1v1h-1zM45 92h1v1h-1zM7 93h1v1h-1zM14 93h1v1h-1zM24 94h1v1h-1zM29 94h1v1h-1zM30 95h1v1h-1zM33 96h1v1h-1zM66 96h1v1h-1zM10 98h1v1h-1zM7 99h1v1h-1zM11 100h1v.971h-1zM46 100h1v.971h-1zM65 100h1v.971h-1z"/>
<path fill="#27c2ac" d="M10 0h2v1h-2zM22 0h2v1h-2zM96 6h1v1h-1zM52 8h2v1h-2zM75 9h2v1h-2zM4 12h3v1h-3zM20 12h2v1h-2zM46 17h1v1h-1zM26 18h1v1h-1zM70 19h5v1h-5zM75 20h7v1h-7zM111 21h2v1h-2zM68 25h3v1h-3zM5 26h2v1h-2zM106 28h1v1h-1zM116 73h1v1h-1zM58 85h1v1h-1z"/>
<path fill="#2cc4a7" d="M121 17h2v1h-2zM29 18h2v1h-2zM1 21h1v1h-1zM111 27h2v1h-2zM81 28h1v1h-1zM18 47h2v1h-2z"/>
<path fill="#2fc5a2" d="M86 -.539h1v.539h-1zM111 0h2v1h-2zM4 1h1v1h-1zM6 1h1v1h-1zM9 1h1v1h-1zM78 1h1v1h-1zM53 3h1v1h-1zM56 3h2v1h-2zM5 4h1v1h-1zM15 4h1v1h-1zM59 5h1v1h-1zM61 5h1v1h-1zM114 6h1v1h-1zM122 6h2v1h-2zM125 6h1v1h-1zM18 7h1v1h-1zM31 7h1v1h-1zM39 7h5v1h-5zM117 7h1v1h-1zM119 7h1v1h-1zM6 8h1v1h-1zM130 8h2v1h-2zM78 9h1v1h-1zM99 9h1v1h-1zM122 10h3v1h-3zM9 12h1v1h-1zM78 13h1v1h-1zM100 13h1v1h-1zM123 13h1v1h-1zM125 13h1v1h-1zM10 14h1v1h-1zM28 14h1v1h-1zM95 14h1v1h-1zM114 14h1v1h-1zM4 15h2v1h-2zM13 16h1v1h-1zM80 16h1v1h-1zM35 17h1v1h-1zM114 17h1v1h-1zM124 17h1v1h-1zM13 18h1v1h-1zM75 18h2v1h-2zM80 19h2v1h-2zM9 21h2v1h-2zM68 22h3v1h-3zM76 22h3v1h-3zM83 22h7v1h-7zM65 23h1v1h-1zM63 24h1v1h-1zM104 24h1v1h-1zM107 24h1v1h-1zM66 25h1v1h-1zM73 25h2v1h-2zM18 27h2v1h-2zM22 27h1v1h-1zM46 28h1v1h-1zM66 28h1v1h-1zM0 29h2v1h-2zM6 29h6v1h-6zM16 29h7v1h-7zM83 31h2v1h-2zM87 31h2v1h-2zM91 31h2v1h-2zM104 31h1v1h-1zM112 31h1v1h-1zM130 32h2v1h-2zM0 34h1v1h-1zM3 34h1v1h-1zM11 34h1v1h-1zM64 34h1v1h-1zM129 34h2v1h-2zM9 35h1v1h-1zM6 36h2v1h-2zM24 36h1v1h-1zM37 36h3v1h-3zM12 37h4v1h-4zM81 37h2v1h-2zM12 38h3v1h-3zM77 38h1v1h-1zM80 38h1v1h-1zM82 38h1v1h-1zM105 38h1v1h-1zM107 38h2v1h-2zM18 39h1v1h-1zM72 42h1v1h-1zM130 44h2v1h-2zM14 45h1v1h-1zM5 46h1v1h-1zM8 46h1v1h-1zM91 46h1v1h-1zM94 46h2v1h-2zM99 46h1v1h-1zM102 46h4v1h-4zM115 46h3v1h-3zM125 46h3v1h-3zM21 47h1v1h-1zM99 47h3v1h-3zM115 47h3v1h-3zM57 48h2v1h-2zM60 48h2v1h-2zM87 50h3v1h-3zM105 50h1v1h-1zM50 51h3v1h-3zM66 51h1v1h-1zM69 51h1v1h-1zM78 51h1v1h-1zM108 51h1v1h-1zM70 52h2v1h-2zM83 52h1v1h-1zM92 52h1v1h-1zM112 52h1v1h-1zM88 53h1v1h-1zM106 53h2v1h-2zM44 54h1v1h-1zM48 54h1v1h-1zM60 54h1v1h-1zM62 55h1v1h-1zM35 56h1v1h-1zM38 56h1v1h-1zM90 56h2v1h-2zM92 58h1v1h-1zM89 59h1v1h-1zM92 59h1v1h-1zM103 59h1v1h-1zM92 60h1v1h-1zM89 61h1v1h-1zM92 61h1v1h-1zM105 61h1v1h-1zM85 62h1v1h-1zM92 62h1v1h-1zM99 62h2v1h-2zM105 62h1v1h-1zM107 62h1v1h-1zM126 62h1v1h-1zM40 63h1v1h-1zM49 63h1v1h-1zM99 63h1v1h-1zM108 63h2v1h-2zM44 64h1v1h-1zM108 64h2v1h-2zM38 65h1v1h-1zM75 65h4v1h-4zM109 65h3v1h-3zM128 65h1v1h-1zM113 67h1v1h-1zM129 67h3v1h-3zM66 68h1v1h-1zM71 68h2v1h-2zM88 68h1v1h-1zM94 68h3v1h-3zM114 68h2v1h-2zM80 69h1v1h-1zM87 69h1v1h-1zM116 69h1v1h-1zM116 70h1v1h-1zM16 71h1v1h-1zM116 71h1v1h-1zM84 72h1v1h-1zM84 73h1v1h-1zM117 74h1v1h-1zM129 74h1v1h-1zM115 76h1v1h-1zM47 77h1v1h-1zM126 78h1v1h-1zM87 79h1v1h-1zM129 79h1v1h-1zM87 80h1v1h-1zM115 80h1v1h-1zM51 83h1v1h-1zM55 84h1v1h-1zM114 84h1v1h-1zM51 85h1v1h-1zM55 85h1v1h-1zM114 85h1v1h-1zM47 86h1v1h-1zM49 86h1v1h-1zM112 86h3v1h-3zM50 87h1v1h-1zM32 90h1v1h-1zM65 90h1v1h-1zM107 90h1v1h-1zM23 91h1v1h-1zM26 91h1v1h-1zM83 91h1v1h-1zM89 92h2v1h-2zM10 93h1v1h-1zM45 96h1v1h-1zM36 97h1v1h-1zM37 98h1v1h-1zM65 98h1v1h-1zM37 99h1v1h-1zM65 99h1v1h-1zM6 100h1v.971h-1zM15 100h1v.971h-1zM37 100h1v.971h-1zM63 100h1v.971h-1z"/>
<path fill="#33c69d" d="M13 1h1v1h-1zM92 1h1v1h-1zM60 3h1v1h-1zM9 6h1v1h-1zM36 7h1v1h-1zM9 8h1v1h-1zM108 9h2v1h-2zM49 10h1v1h-1zM52 10h1v1h-1zM105 13h1v1h-1zM38 14h1v1h-1zM121 14h1v1h-1zM111 16h3v1h-3zM117 16h3v1h-3zM38 18h1v1h-1zM46 18h1v1h-1zM80 18h1v1h-1zM7 19h1v1h-1zM75 19h2v1h-2zM5 23h1v1h-1zM37 23h5v1h-5zM87 24h1v1h-1zM125 24h1v1h-1zM2 32h4v1h-4zM3 49h1v1h-1zM60 50h1v1h-1zM52 54h2v1h-2zM46 62h2v1h-2z"/>
<path fill="#37c898" d="M118 0h2v1h-2zM73 4h2v1h-2zM76 4h1v1h-1zM1 6h3v1h-3zM121 6h1v1h-1zM3 12h1v1h-1zM75 12h1v1h-1zM10 15h1v1h-1zM10 16h1v1h-1zM82 16h1v1h-1zM85 16h2v1h-2zM92 16h3v1h-3zM97 16h1v1h-1zM36 17h2v1h-2zM25 18h1v1h-1zM2 21h2v1h-2zM13 23h1v1h-1zM54 23h2v1h-2zM116 24h1v1h-1zM122 24h1v1h-1zM71 25h2v1h-2zM64 28h2v1h-2zM3 29h1v1h-1zM107 31h4v1h-4zM2 34h1v1h-1zM12 34h2v1h-2zM83 37h2v1h-2zM94 38h1v1h-1zM57 50h2v1h-2zM110 52h1v1h-1zM62 54h1v1h-1zM46 56h3v1h-3zM45 58h1v1h-1zM48 58h1v1h-1zM49 61h1v1h-1zM95 63h2v1h-2zM45 64h1v1h-1zM95 65h2v1h-2zM80 68h2v1h-2zM80 74h1v1h-1zM50 77h1v1h-1zM61 88h1v1h-1z"/>
<path fill="#3bc992" d="M93 1h2v1h-2zM27 3h2v1h-2zM71 4h2v1h-2zM56 5h2v1h-2zM6 6h1v1h-1zM95 6h1v1h-1zM33 7h1v1h-1zM3 8h1v1h-1zM98 9h1v1h-1zM120 9h1v1h-1zM30 10h1v1h-1zM1 12h1v1h-1zM8 12h1v1h-1zM102 13h1v1h-1zM131 13h1v1h-1zM9 15h1v1h-1zM7 16h1v1h-1zM17 17h1v1h-1zM34 17h1v1h-1zM125 17h1v1h-1zM32 18h1v1h-1zM113 21h1v1h-1zM125 21h2v1h-2zM79 22h1v1h-1zM58 23h1v1h-1zM62 23h1v1h-1zM66 23h1v1h-1zM90 24h2v1h-2zM34 28h1v1h-1zM71 28h2v1h-2zM80 28h1v1h-1zM12 29h2v1h-2zM113 31h1v1h-1zM9 33h1v1h-1zM4 34h1v1h-1zM10 35h1v1h-1zM79 37h1v1h-1zM17 39h1v1h-1zM16 42h1v1h-1zM15 45h1v1h-1zM6 46h2v1h-2zM9 46h2v1h-2zM101 46h1v1h-1zM11 47h1v1h-1zM121 47h4v1h-4zM71 48h2v1h-2zM105 48h1v1h-1zM130 48h1v1h-1zM105 49h1v1h-1zM71 50h2v1h-2zM92 50h1v1h-1zM86 51h1v1h-1zM99 52h1v1h-1zM45 54h1v1h-1zM59 54h1v1h-1zM87 54h2v1h-2zM87 55h2v1h-2zM102 56h1v1h-1zM92 57h1v1h-1zM91 58h1v1h-1zM101 59h1v1h-1zM39 62h1v1h-1zM44 63h1v1h-1zM38 64h1v1h-1zM75 64h2v1h-2zM95 64h2v1h-2zM99 64h1v1h-1zM48 65h1v1h-1zM98 65h1v1h-1zM116 66h1v1h-1zM128 67h1v1h-1zM68 68h1v1h-1zM82 72h1v1h-1zM82 73h1v1h-1zM114 73h2v1h-2zM114 75h3v1h-3zM114 76h1v1h-1zM86 78h1v1h-1zM114 81h1v1h-1zM114 82h1v1h-1zM113 84h1v1h-1zM47 85h1v1h-1zM49 85h1v1h-1zM57 85h1v1h-1zM112 85h2v1h-2zM84 89h1v1h-1zM65 91h1v1h-1zM52 93h2v1h-2zM62 93h1v1h-1zM34 97h1v1h-1zM46 97h1v1h-1zM14 98h1v1h-1zM34 98h1v1h-1zM63 98h1v1h-1zM34 99h1v1h-1zM63 99h1v1h-1zM34 100h1v.971h-1z"/>
<path fill="#48cb86" d="M7 -.539h1v.539h-1zM125 -.539h1v.539h-1zM129 -.539h1v.539h-1zM42 0h1v1h-1zM95 0h1v1h-1zM79 1h1v1h-1zM84 1h1v1h-1zM91 1h1v1h-1zM30 3h1v1h-1zM42 3h1v1h-1zM52 3h1v1h-1zM14 4h1v1h-1zM15 5h1v1h-1zM8 6h1v1h-1zM32 7h1v1h-1zM114 7h1v1h-1zM118 7h1v1h-1zM1 8h1v1h-1zM4 8h2v1h-2zM8 8h1v1h-1zM115 9h2v1h-2zM27 10h1v1h-1zM46 10h2v1h-2zM50 10h1v1h-1zM2 12h1v1h-1zM122 13h1v1h-1zM26 14h2v1h-2zM3 15h1v1h-1zM6 15h1v1h-1zM11 16h1v1h-1zM81 16h1v1h-1zM91 16h1v1h-1zM123 17h1v1h-1zM14 18h1v1h-1zM24 18h1v1h-1zM40 18h2v1h-2zM4 21h1v1h-1zM11 21h1v1h-1zM129 21h2v1h-2zM81 22h1v1h-1zM14 23h2v1h-2zM0 27h1v1h-1zM20 27h2v1h-2zM113 27h1v1h-1zM2 29h1v1h-1zM4 29h2v1h-2zM85 31h2v1h-2zM89 31h1v1h-1zM105 31h1v1h-1zM14 32h2v1h-2zM11 33h1v1h-1zM15 33h1v1h-1zM1 34h1v1h-1zM14 34h2v1h-2zM63 34h1v1h-1zM131 34h1v1h-1zM14 35h2v1h-2zM23 36h1v1h-1zM0 37h1v1h-1zM85 37h1v1h-1zM75 38h2v1h-2zM89 38h1v1h-1zM111 38h1v1h-1zM15 40h1v1h-1zM15 44h1v1h-1zM13 45h1v1h-1zM13 47h1v1h-1zM15 47h1v1h-1zM90 47h1v1h-1zM76 48h1v1h-1zM92 48h1v1h-1zM99 48h1v1h-1zM121 48h1v1h-1zM96 49h3v1h-3zM76 50h1v1h-1zM104 50h1v1h-1zM121 50h4v1h-4zM57 51h1v1h-1zM92 51h1v1h-1zM78 52h1v1h-1zM97 52h1v1h-1zM108 52h1v1h-1zM125 52h1v1h-1zM127 52h1v1h-1zM86 53h1v1h-1zM49 54h1v1h-1zM54 54h1v1h-1zM57 54h1v1h-1zM36 55h1v1h-1zM60 55h1v1h-1zM92 56h1v1h-1zM46 59h2v1h-2zM66 59h2v1h-2zM86 59h3v1h-3zM66 60h2v1h-2zM87 61h2v1h-2zM99 61h2v1h-2zM40 62h1v1h-1zM48 62h1v1h-1zM87 62h2v1h-2zM45 63h1v1h-1zM75 63h1v1h-1zM84 63h1v1h-1zM94 63h1v1h-1zM98 63h1v1h-1zM105 63h1v1h-1zM48 64h1v1h-1zM98 64h1v1h-1zM74 65h1v1h-1zM81 65h2v1h-2zM94 65h1v1h-1zM99 65h1v1h-1zM127 65h1v1h-1zM15 67h1v1h-1zM17 67h1v1h-1zM100 67h1v1h-1zM112 67h1v1h-1zM126 67h1v1h-1zM97 68h1v1h-1zM130 68h2v1h-2zM93 69h1v1h-1zM86 70h1v1h-1zM114 72h1v1h-1zM129 73h1v1h-1zM86 75h1v1h-1zM22 77h1v1h-1zM130 78h1v1h-1zM114 80h1v1h-1zM51 84h1v1h-1zM86 85h1v1h-1zM55 86h1v1h-1zM56 87h1v1h-1zM84 88h1v1h-1zM82 89h1v1h-1zM86 89h1v1h-1zM30 90h1v1h-1zM101 90h2v1h-2zM22 91h1v1h-1zM102 91h2v1h-2zM106 91h1v1h-1zM66 92h1v1h-1zM36 93h1v1h-1zM33 94h1v1h-1zM45 94h1v1h-1zM66 94h1v1h-1zM27 95h1v1h-1zM25 96h1v1h-1zM7 97h1v1h-1zM65 97h1v1h-1zM13 100h1v.971h-1z"/>
<path fill="#58cc79" d="M2 -.539h1v.539h-1zM5 -.539h1v.539h-1zM7 1h1v1h-1zM10 1h2v1h-2zM83 1h1v1h-1zM95 1h1v1h-1zM31 3h2v1h-2zM49 3h1v1h-1zM27 5h1v1h-1zM0 6h1v1h-1zM16 7h1v1h-1zM116 7h1v1h-1zM2 8h1v1h-1zM79 9h1v1h-1zM110 9h1v1h-1zM31 10h2v1h-2zM42 10h1v1h-1zM51 10h1v1h-1zM9 14h1v1h-1zM1 15h1v1h-1zM8 15h1v1h-1zM8 16h1v1h-1zM87 16h1v1h-1zM19 18h1v1h-1zM31 18h1v1h-1zM64 23h1v1h-1zM85 24h2v1h-2zM89 24h1v1h-1zM105 24h1v1h-1zM110 24h1v1h-1zM113 24h1v1h-1zM124 24h1v1h-1zM75 25h1v1h-1zM9 27h1v1h-1zM17 27h1v1h-1zM73 28h2v1h-2zM14 29h2v1h-2zM111 31h1v1h-1zM10 33h1v1h-1zM5 34h1v1h-1zM11 35h1v1h-1zM2 37h2v1h-2zM5 37h1v1h-1zM3 38h1v1h-1zM92 38h1v1h-1zM14 40h1v1h-1zM90 46h1v1h-1zM120 46h1v1h-1zM124 46h1v1h-1zM130 46h1v1h-1zM120 47h1v1h-1zM56 48h1v1h-1zM96 48h1v1h-1zM0 49h1v1h-1zM91 49h1v1h-1zM93 49h2v1h-2zM99 49h1v1h-1zM104 49h1v1h-1zM50 50h1v1h-1zM52 50h1v1h-1zM62 50h1v1h-1zM67 51h1v1h-1zM72 52h1v1h-1zM120 52h1v1h-1zM89 53h1v1h-1zM90 58h1v1h-1zM91 60h1v1h-1zM104 61h1v1h-1zM104 62h1v1h-1zM38 63h1v1h-1zM87 63h1v1h-1zM74 64h1v1h-1zM94 64h1v1h-1zM105 64h1v1h-1zM66 65h1v1h-1zM86 65h1v1h-1zM86 66h1v1h-1zM69 68h1v1h-1zM90 69h2v1h-2zM95 69h1v1h-1zM114 70h1v1h-1zM114 71h1v1h-1zM80 72h1v1h-1zM115 72h1v1h-1zM80 73h1v1h-1zM86 74h1v1h-1zM48 77h1v1h-1zM115 79h1v1h-1zM86 84h1v1h-1zM112 84h1v1h-1zM82 88h1v1h-1zM49 89h1v1h-1zM64 89h1v1h-1zM80 89h1v1h-1zM109 89h1v1h-1zM99 90h2v1h-2zM114 90h1v1h-1zM33 92h1v1h-1zM51 93h1v1h-1zM45 95h1v1h-1zM5 96h1v1h-1zM8 96h1v1h-1zM63 97h1v1h-1zM45 99h1v1h-1zM8 100h1v.971h-1zM64 100h1v.971h-1z"/>
<path fill="#60cd72" d="M75 4h1v1h-1zM89 16h1v1h-1zM95 16h1v1h-1zM71 22h2v1h-2z"/>
<path fill="#68cd6b" d="M53 5h1v1h-1zM37 7h1v1h-1zM113 9h1v1h-1zM48 10h1v1h-1zM79 13h1v1h-1zM121 13h1v1h-1zM124 13h1v1h-1zM39 18h1v1h-1zM42 18h2v1h-2zM13 21h1v1h-1zM127 21h2v1h-2zM80 22h1v1h-1zM108 24h2v1h-2zM117 24h1v1h-1zM14 33h1v1h-1zM0 38h1v1h-1zM81 38h1v1h-1zM106 38h1v1h-1zM109 38h1v1h-1zM15 43h1v1h-1zM14 44h1v1h-1zM100 46h1v1h-1zM131 48h1v1h-1zM93 52h1v1h-1zM128 52h1v1h-1zM44 56h1v1h-1zM48 59h1v1h-1zM102 59h1v1h-1zM46 61h2v1h-2zM44 62h1v1h-1zM108 65h1v1h-1zM114 66h2v1h-2zM67 68h1v1h-1zM113 68h1v1h-1zM129 68h1v1h-1zM88 69h1v1h-1zM86 76h1v1h-1zM87 78h1v1h-1zM113 83h1v1h-1zM80 88h1v1h-1zM86 88h1v1h-1zM63 90h1v1h-1zM47 91h1v1h-1z"/>
<path fill="#71cd64" d="M80 1h1v1h-1zM34 7h1v1h-1zM117 9h1v1h-1zM45 10h1v1h-1zM0 12h1v1h-1zM99 13h1v1h-1zM6 14h1v1h-1zM2 15h1v1h-1zM15 21h1v1h-1zM64 24h2v1h-2z"/>
<path fill="#7acc5d" d="M85 1h1v1h-1zM47 3h1v1h-1zM50 3h1v1h-1zM60 5h1v1h-1zM85 9h2v1h-2zM7 12h1v1h-1zM107 13h1v1h-1zM116 13h1v1h-1zM23 18h1v1h-1zM5 21h1v1h-1zM12 21h1v1h-1zM131 21h1v1h-1zM83 24h2v1h-2zM112 24h1v1h-1zM106 31h1v1h-1zM12 35h2v1h-2zM1 37h1v1h-1zM4 37h1v1h-1zM86 37h1v1h-1zM5 38h1v1h-1zM78 38h1v1h-1zM83 38h1v1h-1zM16 39h1v1h-1zM18 41h1v1h-1zM6 42h1v1h-1zM14 47h1v1h-1zM97 48h1v1h-1zM122 48h2v1h-2zM95 49h1v1h-1zM51 50h1v1h-1zM56 50h1v1h-1zM93 50h2v1h-2zM49 51h1v1h-1zM107 51h1v1h-1zM91 52h1v1h-1zM98 52h1v1h-1zM126 52h1v1h-1zM104 53h1v1h-1zM58 54h1v1h-1zM37 55h1v1h-1zM43 55h1v1h-1zM55 55h1v1h-1zM89 56h1v1h-1zM44 59h1v1h-1zM85 59h1v1h-1zM66 61h1v1h-1zM75 62h1v1h-1zM84 62h1v1h-1zM106 62h1v1h-1zM76 63h1v1h-1zM100 63h1v1h-1zM83 64h1v1h-1zM86 64h1v1h-1zM100 65h1v1h-1zM105 65h1v1h-1zM128 66h1v1h-1zM16 67h1v1h-1zM103 67h3v1h-3zM109 67h1v1h-1zM111 67h1v1h-1zM127 67h1v1h-1zM97 69h1v1h-1zM87 70h1v1h-1zM115 70h1v1h-1zM97 71h2v1h-2zM115 71h1v1h-1zM87 75h1v1h-1zM86 77h1v1h-1zM115 78h1v1h-1zM47 84h1v1h-1zM49 84h1v1h-1zM48 85h1v1h-1zM50 85h1v1h-1zM110 85h2v1h-2zM50 86h1v1h-1zM110 86h2v1h-2zM54 87h1v1h-1zM110 87h2v1h-2zM104 88h1v1h-1zM109 88h1v1h-1zM104 89h1v1h-1zM114 89h1v1h-1zM63 91h1v1h-1zM86 91h1v1h-1zM101 91h1v1h-1zM36 94h1v1h-1zM24 97h1v1h-1zM45 98h1v1h-1zM64 98h1v1h-1zM21 99h1v1h-1zM64 99h1v1h-1zM10 100h1v.971h-1z"/>
<path fill="#84cc56" d="M112 9h1v1h-1zM73 22h2v1h-2z"/>
<path fill="#8dcb4f" d="M8 1h1v1h-1zM82 1h1v1h-1zM38 3h1v1h-1zM41 3h1v1h-1zM51 3h1v1h-1zM7 8h1v1h-1zM84 9h1v1h-1zM119 9h1v1h-1zM33 10h1v1h-1zM38 10h1v1h-1zM15 18h1v1h-1zM20 18h1v1h-1zM33 18h1v1h-1zM63 23h1v1h-1zM69 24h1v1h-1zM88 24h1v1h-1zM1 27h1v1h-1zM16 27h1v1h-1zM75 28h1v1h-1zM90 31h1v1h-1zM0 33h1v1h-1zM3 33h1v1h-1zM13 33h1v1h-1zM2 38h1v1h-1zM90 38h1v1h-1zM13 40h1v1h-1zM4 46h1v1h-1zM118 46h1v1h-1zM121 46h1v1h-1zM131 46h1v1h-1zM93 48h1v1h-1zM91 50h1v1h-1zM62 51h1v1h-1zM73 52h1v1h-1zM66 62h1v1h-1zM87 66h1v1h-1zM127 68h1v1h-1zM94 69h1v1h-1zM128 72h1v1h-1zM113 75h1v1h-1zM128 75h1v1h-1zM113 76h1v1h-1zM110 77h2v1h-2zM48 86h1v1h-1zM51 87h1v1h-1zM84 91h1v1h-1zM107 91h1v1h-1z"/>
<path fill="#9fc942" d="M87 1h1v1h-1zM115 2h1v1h-1zM29 3h1v1h-1zM33 3h1v1h-1zM36 3h1v1h-1zM48 3h1v1h-1zM28 5h1v1h-1zM7 6h1v1h-1zM17 7h1v1h-1zM120 7h1v1h-1zM0 8h1v1h-1zM80 9h1v1h-1zM92 9h1v1h-1zM111 9h1v1h-1zM29 10h1v1h-1zM41 10h1v1h-1zM43 10h1v1h-1zM106 13h1v1h-1zM8 14h1v1h-1zM88 16h1v1h-1zM35 18h1v1h-1zM111 24h1v1h-1zM119 24h1v1h-1zM3 27h1v1h-1zM10 27h1v1h-1zM118 47h1v1h-1zM54 48h1v1h-1zM101 49h3v1h-3zM116 49h1v1h-1zM128 49h1v1h-1zM102 50h2v1h-2zM77 51h1v1h-1zM93 51h1v1h-1zM86 52h1v1h-1zM94 52h1v1h-1zM129 52h1v1h-1zM105 53h1v1h-1zM51 54h1v1h-1zM89 58h1v1h-1zM48 61h1v1h-1zM102 61h2v1h-2zM38 62h1v1h-1zM48 63h1v1h-1zM66 64h1v1h-1zM79 65h1v1h-1zM87 65h1v1h-1zM101 67h1v1h-1zM128 68h1v1h-1zM89 69h1v1h-1zM92 69h1v1h-1zM96 69h1v1h-1zM98 69h1v1h-1zM115 69h1v1h-1zM86 73h1v1h-1zM128 76h1v1h-1zM86 83h1v1h-1zM114 83h1v1h-1zM87 85h1v1h-1zM59 88h1v1h-1zM102 88h2v1h-2zM24 90h1v1h-1zM99 91h1v1h-1zM60 93h1v1h-1zM66 95h1v1h-1zM32 96h1v1h-1zM62 98h1v1h-1zM6 99h1v1h-1zM62 100h1v.971h-1z"/>
<path fill="#b0c636" d="M0 -.539h2v.539h-2zM128 -.539h1v.539h-1zM128 7h1v1h-1zM36 10h1v1h-1zM84 13h1v1h-1zM98 13h1v1h-1zM0 15h1v1h-1zM7 15h1v1h-1zM1 16h1v1h-1zM22 18h1v1h-1zM14 21h1v1h-1zM75 22h1v1h-1zM67 24h1v1h-1zM106 24h1v1h-1zM5 27h1v1h-1zM5 33h1v1h-1zM12 33h1v1h-1zM3 35h1v1h-1zM1 38h1v1h-1zM4 38h1v1h-1zM12 40h1v1h-1zM8 42h1v1h-1zM14 43h1v1h-1zM1 46h1v1h-1zM122 46h2v1h-2zM91 48h1v1h-1zM90 49h1v1h-1zM115 49h1v1h-1zM87 51h1v1h-1zM96 52h1v1h-1zM106 52h1v1h-1zM119 52h1v1h-1zM86 54h1v1h-1zM47 55h1v1h-1zM86 55h1v1h-1zM45 56h1v1h-1zM66 56h1v1h-1zM87 56h2v1h-2zM44 61h1v1h-1zM85 61h1v1h-1zM45 62h1v1h-1zM102 62h2v1h-2zM66 63h1v1h-1zM74 63h1v1h-1zM83 63h1v1h-1zM86 63h1v1h-1zM107 63h1v1h-1zM67 65h1v1h-1zM126 65h1v1h-1zM102 67h1v1h-1zM108 67h1v1h-1zM110 67h1v1h-1zM112 68h1v1h-1zM114 69h1v1h-1zM113 70h1v1h-1zM128 70h1v1h-1zM113 71h1v1h-1zM128 71h1v1h-1zM86 72h1v1h-1zM113 72h1v1h-1zM113 74h1v1h-1zM116 74h1v1h-1zM86 82h1v1h-1zM87 84h1v1h-1zM110 84h2v1h-2zM100 88h1v1h-1zM62 89h1v1h-1zM102 89h2v1h-2zM27 90h1v1h-1zM91 90h1v1h-1zM93 90h1v1h-1zM96 90h1v1h-1zM23 92h1v1h-1zM28 92h1v1h-1zM31 95h1v1h-1zM9 96h1v1h-1zM65 96h1v1h-1zM21 98h1v1h-1zM36 98h1v1h-1zM18 99h1v1h-1zM25 99h1v1h-1zM62 99h1v1h-1zM33 100h1v.971h-1zM45 100h1v.971h-1z"/>
<path fill="#b9c431" d="M119 2h1v1h-1z"/>
<path fill="#c1c32d" d="M81 1h1v1h-1zM89 1h1v1h-1zM117 2h1v1h-1zM52 5h1v1h-1zM124 7h1v1h-1zM131 7h1v1h-1zM94 9h1v1h-1zM97 9h1v1h-1zM118 9h1v1h-1zM109 13h1v1h-1zM114 13h1v1h-1zM82 24h1v1h-1zM2 33h1v1h-1zM0 35h1v1h-1zM7 42h1v1h-1zM15 42h1v1h-1zM13 44h1v1h-1zM119 46h1v1h-1zM119 47h1v1h-1zM55 48h1v1h-1zM75 48h1v1h-1zM98 48h1v1h-1zM104 48h1v1h-1zM126 49h1v1h-1zM49 50h1v1h-1zM61 50h1v1h-1zM75 50h1v1h-1zM95 50h1v1h-1zM99 50h1v1h-1zM101 50h1v1h-1zM91 51h1v1h-1zM124 52h1v1h-1zM91 57h1v1h-1zM45 59h1v1h-1zM67 61h1v1h-1zM76 62h1v1h-1zM81 64h1v1h-1zM100 64h1v1h-1zM107 64h1v1h-1zM73 65h1v1h-1zM104 65h1v1h-1zM113 66h1v1h-1zM126 68h1v1h-1zM127 75h1v1h-1zM87 76h1v1h-1zM47 88h1v1h-1zM105 88h1v1h-1zM52 89h1v1h-1zM105 89h1v1h-1zM64 97h1v1h-1zM33 99h1v1h-1zM36 99h1v1h-1zM9 100h1v.971h-1zM36 100h1v.971h-1zM61 100h1v.971h-1z"/>
<path fill="#c8c129" d="M1 1h1v1h-1zM86 1h1v1h-1zM37 3h1v1h-1zM43 3h1v1h-1zM46 3h1v1h-1zM49 5h1v1h-1zM44 10h1v1h-1zM16 18h1v1h-1zM37 18h1v1h-1zM2 27h1v1h-1zM95 48h1v1h-1zM59 51h1v1h-1zM53 55h1v1h-1zM98 68h1v1h-1zM113 73h1v1h-1zM87 74h1v1h-1z"/>
<path fill="#d0c027" d="M40 3h1v1h-1zM122 7h1v1h-1zM37 10h1v1h-1zM80 13h1v1h-1zM83 13h1v1h-1zM120 13h1v1h-1zM3 16h1v1h-1zM4 27h1v1h-1zM11 27h1v1h-1zM4 33h1v1h-1zM2 35h1v1h-1zM6 39h1v1h-1zM6 40h1v1h-1zM17 41h1v1h-1zM5 47h1v1h-1zM8 47h1v1h-1zM10 47h1v1h-1zM50 48h1v1h-1zM52 48h1v1h-1zM117 49h1v1h-1zM129 49h1v1h-1zM54 50h1v1h-1zM90 50h1v1h-1zM96 50h1v1h-1zM101 53h1v1h-1zM41 55h1v1h-1zM59 55h1v1h-1zM67 55h1v1h-1zM84 59h1v1h-1zM67 62h1v1h-1zM87 64h1v1h-1zM127 76h1v1h-1zM112 83h1v1h-1zM101 88h1v1h-1zM53 89h1v1h-1zM64 91h1v1h-1zM22 92h1v1h-1zM26 92h1v1h-1zM6 93h1v1h-1zM49 93h1v1h-1zM21 97h1v1h-1zM33 97h1v1h-1zM33 98h1v1h-1zM16 99h1v1h-1zM14 100h1v.971h-1z"/>
<path fill="#debd29" d="M131 -.539h1v.539h-1zM35 3h1v1h-1zM44 3h1v1h-1zM129 7h1v1h-1zM81 9h1v1h-1zM87 9h1v1h-1zM90 9h1v1h-1zM93 9h1v1h-1zM96 9h1v1h-1zM108 13h1v1h-1zM117 13h1v1h-1zM21 18h1v1h-1zM34 18h1v1h-1zM70 24h1v1h-1zM118 24h1v1h-1zM79 38h1v1h-1zM84 38h1v1h-1zM11 40h1v1h-1zM73 48h1v1h-1zM94 48h1v1h-1zM72 51h1v1h-1zM94 51h1v1h-1zM77 52h1v1h-1zM87 52h1v1h-1zM90 52h1v1h-1zM50 54h1v1h-1zM35 55h1v1h-1zM101 61h1v1h-1zM80 65h1v1h-1zM87 77h1v1h-1zM86 81h1v1h-1zM113 82h1v1h-1zM50 84h1v1h-1zM86 87h1v1h-1zM31 90h1v1h-1zM64 90h1v1h-1zM97 90h1v1h-1zM25 98h1v1h-1z"/>
<path fill="#eaba31" d="M126 -.539h2v.539h-2zM3 1h1v1h-1zM88 1h1v1h-1zM114 2h1v1h-1zM118 2h1v1h-1zM47 5h1v1h-1zM125 7h1v1h-1zM127 7h1v1h-1zM35 10h1v1h-1zM40 10h1v1h-1zM7 14h1v1h-1zM2 16h1v1h-1zM18 18h1v1h-1zM36 18h1v1h-1zM66 24h1v1h-1zM72 24h1v1h-1zM78 24h1v1h-1zM13 27h1v1h-1zM1 33h1v1h-1zM4 35h1v1h-1zM4 42h1v1h-1zM9 42h1v1h-1zM14 42h1v1h-1zM13 43h1v1h-1zM2 46h1v1h-1zM7 47h1v1h-1zM51 48h1v1h-1zM53 48h1v1h-1zM101 48h1v1h-1zM100 49h1v1h-1zM120 49h1v1h-1zM127 49h1v1h-1zM55 50h1v1h-1zM73 50h1v1h-1zM97 50h1v1h-1zM56 51h1v1h-1zM88 51h1v1h-1zM107 52h1v1h-1zM92 53h1v1h-1zM96 53h1v1h-1zM99 53h1v1h-1zM102 53h2v1h-2zM52 55h1v1h-1zM87 58h2v1h-2zM90 60h1v1h-1zM45 61h1v1h-1zM81 63h1v1h-1zM104 63h1v1h-1zM67 64h1v1h-1zM82 64h1v1h-1zM104 64h1v1h-1zM71 65h1v1h-1zM107 65h1v1h-1zM127 66h1v1h-1zM107 67h1v1h-1zM100 68h1v1h-1zM128 69h1v1h-1zM114 74h1v1h-1zM90 75h1v1h-1zM112 75h1v1h-1zM90 76h1v1h-1zM112 76h1v1h-1zM48 84h1v1h-1zM86 86h1v1h-1zM55 87h1v1h-1zM87 88h1v1h-1zM99 88h1v1h-1zM87 89h1v1h-1zM101 89h1v1h-1zM49 90h1v1h-1zM56 93h1v1h-1zM61 93h1v1h-1zM23 94h1v1h-1zM28 94h1v1h-1zM47 96h1v1h-1zM45 97h1v1h-1z"/>
<path fill="#f5ba3a" d="M130 -.539h1v.539h-1zM2 1h1v1h-1zM116 2h1v1h-1zM42 5h1v1h-1zM50 5h1v1h-1zM83 9h1v1h-1zM89 9h1v1h-1zM82 13h1v1h-1zM85 13h2v1h-2zM15 27h1v1h-1zM1 35h1v1h-1zM8 40h1v1h-1zM103 48h1v1h-1zM60 51h2v1h-2zM73 51h1v1h-1zM131 52h1v1h-1zM67 56h1v1h-1zM85 56h1v1h-1zM74 62h1v1h-1zM83 62h1v1h-1zM106 67h1v1h-1zM113 69h1v1h-1zM127 72h1v1h-1zM93 75h1v1h-1zM93 76h1v1h-1zM114 78h1v1h-1zM129 78h1v1h-1zM87 83h1v1h-1zM50 89h1v1h-1zM92 90h1v1h-1zM47 92h1v1h-1zM35 93h1v1h-1zM26 94h1v1h-1zM60 99h1v1h-1zM55 100h1v.971h-1z"/>
<path fill="#fabb3d" d="M39 3h1v1h-1zM45 3h1v1h-1zM123 7h1v1h-1zM126 7h1v1h-1zM130 7h1v1h-1zM95 9h1v1h-1zM115 13h1v1h-1zM119 13h1v1h-1zM12 27h1v1h-1zM8 39h1v1h-1zM15 39h1v1h-1z"/>
<path fill="#fdbd3d" d="M51 5h1v1h-1zM92 13h1v1h-1zM110 13h1v1h-1zM17 18h1v1h-1zM68 24h1v1h-1zM77 24h1v1h-1zM7 40h1v1h-1zM10 40h1v1h-1zM12 43h1v1h-1zM6 47h1v1h-1zM9 47h1v1h-1zM74 48h1v1h-1zM90 48h1v1h-1zM118 49h1v1h-1zM125 49h1v1h-1zM53 50h1v1h-1zM74 50h1v1h-1zM100 50h1v1h-1zM70 51h1v1h-1zM76 51h1v1h-1zM96 51h1v1h-1zM99 51h1v1h-1zM106 51h1v1h-1zM88 52h1v1h-1zM95 52h1v1h-1zM100 52h1v1h-1zM105 52h1v1h-1zM115 52h1v1h-1zM118 52h1v1h-1zM121 52h1v1h-1zM115 53h1v1h-1zM66 54h1v1h-1zM85 54h1v1h-1zM42 55h1v1h-1zM49 55h1v1h-1zM54 55h1v1h-1zM86 56h1v1h-1zM70 59h1v1h-1zM86 61h1v1h-1zM86 62h1v1h-1zM101 62h1v1h-1zM67 63h1v1h-1zM82 63h1v1h-1zM106 63h1v1h-1zM73 64h1v1h-1zM77 64h1v1h-1zM106 65h1v1h-1zM130 66h2v1h-2zM99 68h1v1h-1zM127 70h1v1h-1zM127 71h1v1h-1zM87 72h1v1h-1zM130 72h1v1h-1zM115 74h1v1h-1zM91 75h1v1h-1zM109 77h1v1h-1zM114 79h1v1h-1zM113 81h1v1h-1zM87 82h1v1h-1zM109 85h1v1h-1zM106 88h1v1h-1zM108 88h1v1h-1zM48 89h1v1h-1zM60 89h1v1h-1zM108 89h1v1h-1zM100 91h1v1h-1zM32 92h1v1h-1zM65 92h1v1h-1zM54 93h1v1h-1zM22 94h1v1h-1zM63 96h1v1h-1zM6 97h1v1h-1zM18 97h1v1h-1zM62 97h1v1h-1zM60 98h1v1h-1zM19 99h2v1h-2zM57 100h1v.971h-1zM59 100h1v.971h-1z"/>
<path fill="#fec13a" d="M34 3h1v1h-1zM30 5h1v1h-1zM32 5h1v1h-1zM48 5h1v1h-1zM74 24h1v1h-1zM54 51h1v1h-1zM93 53h1v1h-1zM97 53h1v1h-1zM102 65h2v1h-2zM94 90h1v1h-1z"/>
<path fill="#fec437" d="M82 9h1v1h-1zM88 9h1v1h-1zM91 9h1v1h-1zM81 13h1v1h-1zM5 35h1v1h-1zM85 38h2v1h-2zM7 39h1v1h-1zM5 42h1v1h-1zM10 42h1v1h-1zM13 42h1v1h-1zM3 46h1v1h-1zM49 48h1v1h-1zM102 48h1v1h-1zM98 50h1v1h-1zM89 51h1v1h-1zM104 52h1v1h-1zM123 52h1v1h-1zM100 53h1v1h-1zM67 54h1v1h-1zM84 54h1v1h-1zM57 55h1v1h-1zM90 57h1v1h-1zM84 58h2v1h-2zM75 59h1v1h-1zM83 59h1v1h-1zM84 61h1v1h-1zM81 62h1v1h-1zM80 64h1v1h-1zM106 64h1v1h-1zM72 65h1v1h-1zM96 66h1v1h-1zM112 66h1v1h-1zM110 68h2v1h-2zM127 69h1v1h-1zM112 72h1v1h-1zM88 75h1v1h-1zM95 75h1v1h-1zM126 75h1v1h-1zM91 76h1v1h-1zM126 76h1v1h-1zM106 89h1v1h-1zM62 90h1v1h-1zM32 94h1v1h-1zM65 94h1v1h-1zM24 96h1v1h-1zM29 96h1v1h-1zM16 97h1v1h-1zM23 97h1v1h-1zM56 99h1v1h-1zM60 100h1v.971h-1z"/>
<path fill="#fec835" d="M121 7h1v1h-1z"/>
<path fill="#fdcc32" d="M120 2h1v1h-1zM113 13h1v1h-1zM71 24h1v1h-1zM0 42h1v1h-1zM12 45h1v1h-1zM100 48h1v1h-1zM119 49h1v1h-1zM58 51h1v1h-1zM97 51h1v1h-1zM68 59h1v1h-1zM70 60h1v1h-1zM73 63h1v1h-1zM71 64h1v1h-1zM101 65h1v1h-1zM100 66h1v1h-1zM126 66h1v1h-1zM130 69h1v1h-1zM90 70h1v1h-1zM112 70h1v1h-1zM112 71h1v1h-1zM87 73h1v1h-1zM112 74h1v1h-1zM88 76h1v1h-1zM95 76h1v1h-1zM113 80h1v1h-1zM109 86h1v1h-1zM99 89h1v1h-1zM95 90h1v1h-1zM30 92h1v1h-1zM28 97h1v1h-1zM56 98h1v1h-1z"/>
<path fill="#fad42e" d="M31 5h1v1h-1zM43 5h1v1h-1zM34 10h1v1h-1zM39 10h1v1h-1zM118 13h1v1h-1zM73 24h1v1h-1zM4 39h1v1h-1zM4 40h1v1h-1zM55 51h1v1h-1zM90 51h1v1h-1zM76 52h1v1h-1zM122 52h1v1h-1zM91 53h1v1h-1zM46 55h1v1h-1zM66 55h1v1h-1zM85 55h1v1h-1zM75 61h1v1h-1zM71 62h1v1h-1zM77 63h1v1h-1zM105 66h1v1h-1zM130 70h1v1h-1zM130 71h1v1h-1zM92 75h1v1h-1zM94 75h1v1h-1zM87 81h1v1h-1zM109 87h1v1h-1zM56 89h1v1h-1zM100 89h1v1h-1zM23 90h1v1h-1zM52 90h1v1h-1zM90 90h1v1h-1zM62 91h1v1h-1zM91 91h1v1h-1zM63 92h1v1h-1zM30 94h1v1h-1zM7 96h1v1h-1zM17 99h1v1h-1z"/>
<path fill="#f7dc2a" d="M94 13h1v1h-1zM97 13h1v1h-1zM76 24h1v1h-1zM79 24h1v1h-1zM14 27h1v1h-1zM9 39h1v1h-1zM14 39h1v1h-1zM9 40h1v1h-1zM12 42h1v1h-1zM11 43h1v1h-1zM124 49h1v1h-1zM71 51h1v1h-1zM100 51h1v1h-1zM89 52h1v1h-1zM101 52h1v1h-1zM130 52h1v1h-1zM58 55h1v1h-1zM75 56h1v1h-1zM86 58h1v1h-1zM69 59h1v1h-1zM97 66h1v1h-1zM104 66h1v1h-1zM131 72h1v1h-1zM89 75h1v1h-1zM130 75h1v1h-1zM94 76h1v1h-1zM87 87h1v1h-1zM51 89h1v1h-1zM27 92h1v1h-1zM59 93h1v1h-1zM47 94h1v1h-1zM22 97h1v1h-1zM26 97h1v1h-1zM61 99h1v1h-1z"/>
<path fill="#f6e028" d="M33 5h1v1h-1zM38 5h1v1h-1zM46 5h1v1h-1zM112 13h1v1h-1zM2 42h1v1h-1zM104 51h1v1h-1zM116 52h1v1h-1zM95 53h1v1h-1zM98 53h1v1h-1zM75 54h1v1h-1zM40 55h1v1h-1zM84 55h1v1h-1zM76 59h1v1h-1zM81 59h1v1h-1zM89 60h1v1h-1zM82 62h1v1h-1zM80 63h1v1h-1zM70 65h1v1h-1zM90 66h1v1h-1zM131 69h1v1h-1zM93 70h1v1h-1zM96 75h1v1h-1zM110 75h2v1h-2zM89 76h1v1h-1zM92 76h1v1h-1zM110 76h2v1h-2zM109 84h1v1h-1zM87 86h1v1h-1zM58 88h1v1h-1zM53 90h1v1h-1zM65 95h1v1h-1zM19 98h1v1h-1zM61 98h1v1h-1zM24 99h1v1h-1zM32 99h1v1h-1z"/>
<path fill="#f5e825" d="M41 5h1v1h-1zM0 16h1v1h-1zM12 44h1v1h-1zM78 54h1v1h-1zM83 54h1v1h-1zM84 56h1v1h-1zM70 57h1v1h-1zM70 58h1v1h-1zM68 60h1v1h-1zM73 62h1v1h-1zM71 63h1v1h-1zM103 63h1v1h-1zM72 64h1v1h-1zM78 64h1v1h-1zM101 64h1v1h-1zM93 66h1v1h-1zM91 70h1v1h-1zM126 72h1v1h-1zM96 76h1v1h-1zM88 79h1v1h-1zM88 80h1v1h-1zM112 80h1v1h-1zM110 83h2v1h-2zM50 96h1v1h-1zM64 96h1v1h-1zM19 97h1v1h-1zM60 97h1v1h-1z"/>
<path fill="#f5ec22" d="M8 43h1v1h-1zM76 61h1v1h-1z"/>
<path fill="#f6f020" d="M93 13h1v1h-1zM3 40h1v1h-1zM95 51h1v1h-1zM98 51h1v1h-1zM103 51h1v1h-1zM90 53h1v1h-1zM75 58h1v1h-1zM99 66h1v1h-1zM109 66h3v1h-3zM129 66h1v1h-1zM126 69h1v1h-1zM129 69h1v1h-1zM131 70h1v1h-1zM131 71h1v1h-1zM129 72h1v1h-1zM129 75h1v1h-1zM131 75h1v1h-1zM130 76h1v1h-1zM61 89h1v1h-1zM26 90h1v1h-1zM64 92h1v1h-1zM57 93h1v1h-1zM31 96h1v1h-1zM20 97h1v1h-1zM20 98h1v1h-1z"/>
<path fill="#f9fb15" d="M0 1h1v1h-1zM121 2h11v1h-11zM29 5h1v1h-1zM34 5h4v1h-4zM39 5h2v1h-2zM44 5h2v1h-2zM87 13h5v1h-5zM95 13h2v1h-2zM111 13h1v1h-1zM75 24h1v1h-1zM80 24h2v1h-2zM0 39h4v1h-4zM5 39h1v1h-1zM10 39h4v1h-4zM0 40h3v1h-3zM5 40h1v1h-1zM0 41h17v1h-17zM1 42h1v1h-1zM3 42h1v1h-1zM11 42h1v1h-1zM0 43h8v1h-8zM9 43h2v1h-2zM0 44h12v1h-12zM0 45h12v1h-12zM0 46h1v1h-1zM0 47h5v1h-5zM121 49h3v1h-3zM130 49h2v1h-2zM53 51h1v1h-1zM74 51h2v1h-2zM101 51h2v1h-2zM105 51h1v1h-1zM74 52h2v1h-2zM102 52h2v1h-2zM117 52h1v1h-1zM94 53h1v1h-1zM116 53h16v1h-16zM68 54h7v1h-7zM76 54h2v1h-2zM79 54h4v1h-4zM38 55h2v1h-2zM44 55h2v1h-2zM48 55h1v1h-1zM50 55h2v1h-2zM68 55h16v1h-16zM68 56h7v1h-7zM76 56h8v1h-8zM68 57h2v1h-2zM71 57h19v1h-19zM68 58h2v1h-2zM71 58h4v1h-4zM76 58h8v1h-8zM71 59h4v1h-4zM77 59h4v1h-4zM82 59h1v1h-1zM69 60h1v1h-1zM71 60h18v1h-18zM68 61h7v1h-7zM77 61h7v1h-7zM68 62h3v1h-3zM72 62h1v1h-1zM77 62h4v1h-4zM68 63h3v1h-3zM72 63h1v1h-1zM78 63h2v1h-2zM101 63h2v1h-2zM68 64h3v1h-3zM79 64h1v1h-1zM102 64h2v1h-2zM68 65h2v1h-2zM88 66h2v1h-2zM91 66h2v1h-2zM94 66h2v1h-2zM98 66h1v1h-1zM101 66h3v1h-3zM106 66h3v1h-3zM101 68h9v1h-9zM99 69h14v1h-14zM88 70h2v1h-2zM92 70h1v1h-1zM94 70h18v1h-18zM126 70h1v1h-1zM129 70h1v1h-1zM99 71h13v1h-13zM126 71h1v1h-1zM129 71h1v1h-1zM88 72h24v1h-24zM88 73h25v1h-25zM88 74h24v1h-24zM97 75h13v1h-13zM97 76h13v1h-13zM129 76h1v1h-1zM131 76h1v1h-1zM88 77h21v1h-21zM88 78h26v1h-26zM89 79h25v1h-25zM89 80h23v1h-23zM88 81h25v1h-25zM88 82h25v1h-25zM88 83h22v1h-22zM88 84h21v1h-21zM88 85h21v1h-21zM88 86h21v1h-21zM88 87h21v1h-21zM48 88h10v1h-10zM88 88h11v1h-11zM107 88h1v1h-1zM54 89h2v1h-2zM57 89h3v1h-3zM88 89h11v1h-11zM107 89h1v1h-1zM22 90h1v1h-1zM48 90h1v1h-1zM50 90h2v1h-2zM54 90h8v1h-8zM88 90h2v1h-2zM98 90h1v1h-1zM48 91h14v1h-14zM88 91h3v1h-3zM92 91h7v1h-7zM31 92h1v1h-1zM48 92h15v1h-15zM16 93h19v1h-19zM48 93h1v1h-1zM55 93h1v1h-1zM58 93h1v1h-1zM27 94h1v1h-1zM31 94h1v1h-1zM48 94h17v1h-17zM47 95h18v1h-18zM6 96h1v1h-1zM16 96h8v1h-8zM26 96h3v1h-3zM30 96h1v1h-1zM48 96h2v1h-2zM51 96h12v1h-12zM17 97h1v1h-1zM27 97h1v1h-1zM29 97h4v1h-4zM47 97h13v1h-13zM61 97h1v1h-1zM16 98h3v1h-3zM22 98h3v1h-3zM26 98h7v1h-7zM47 98h9v1h-9zM57 98h3v1h-3zM22 99h2v1h-2zM26 99h6v1h-6zM47 99h9v1h-9zM57 99h3v1h-3zM16 100h17v.971h-17zM47 100h8v.971h-8zM56 100h1v.971h-1zM58 100h1v.971h-1z"/>
</g>
</g>
<text x="262.9" y="1156.7" font-size="25.8" text-anchor="middle">2005</text>
<text x="377.8" y="1156.7" font-size="25.8" text-anchor="middle">2006</text>
<text x="492.8" y="1156.7" font-size="25.8" text-anchor="middle">2007</text>
<text x="607.7" y="1156.7" font-size="25.8" text-anchor="middle">2008</text>
<text x="722.7" y="1156.7" font-size="25.8" text-anchor="middle">2009</text>
<text x="837.6" y="1156.7" font-size="25.8" text-anchor="middle">2010</text>
<text x="952.5" y="1156.7" font-size="25.8" text-anchor="middle">2011</text>
<text x="1067.5" y="1156.7" font-size="25.8" text-anchor="middle">2012</text>
<text x="1182.4" y="1156.7" font-size="25.8" text-anchor="middle">2013</text>
<text x="157.3" y="1101.9" font-size="25.8" text-anchor="end">26</text>
<text x="157.3" y="1041.4" font-size="25.8" text-anchor="end">28</text>
<text x="157.3" y="981.0" font-size="25.8" text-anchor="end">30</text>
<text x="157.3" y="920.5" font-size="25.8" text-anchor="end">32</text>
<text x="157.3" y="860.1" font-size="25.8" text-anchor="end">34</text>
<text x="157.3" y="799.6" font-size="25.8" text-anchor="end">36</text>
<text x="157.3" y="739.1" font-size="25.8" text-anchor="end">38</text>
<text x="157.3" y="678.7" font-size="25.8" text-anchor="end">40</text>
<text x="157.3" y="618.2" font-size="25.8" text-anchor="end">42</text>
<text x="157.3" y="557.8" font-size="25.8" text-anchor="end">44</text>
<text x="157.3" y="497.3" font-size="25.8" text-anchor="end">46</text>
<path d="M262.9 1123.4v-11M262.9 458.4v11M377.8 1123.4v-11M377.8 458.4v11M492.8 1123.4v-11M492.8 458.4v11M607.7 1123.4v-11M607.7 458.4v11M722.7 1123.4v-11M722.7 458.4v11M837.6 1123.4v-11M837.6 458.4v11M952.5 1123.4v-11M952.5 458.4v11M1067.5 1123.4v-11M1067.5 458.4v11M1182.4 1123.4v-11M1182.4 458.4v11M165.2 1092.8h11M1204.6 1092.8h-11M165.2 1032.3h11M1204.6 1032.3h-11M165.2 971.9h11M1204.6 971.9h-11M165.2 911.4h11M1204.6 911.4h-11M165.2 851.0h11M1204.6 851.0h-11M165.2 790.5h11M1204.6 790.5h-11M165.2 730.0h11M1204.6 730.0h-11M165.2 669.6h11M1204.6 669.6h-11M165.2 609.1h11M1204.6 609.1h-11M165.2 548.7h11M1204.6 548.7h-11M165.2 488.2h11M1204.6 488.2h-11" stroke="#262626" stroke-width="1.3" fill="none"/>
<rect x="165.2" y="458.4" width="1039.4" height="665.0" fill="none" stroke="#262626" stroke-width="1.3"/>
<line x1="974.7" y1="1123.4" x2="974.7" y2="458.4" stroke="#ff0000" stroke-width="13" stroke-dasharray="12.52 12.52"/>
<text transform="translate(963.2,1120.7) rotate(-90)" font-size="39.4" style="fill:#ff0000">Tohoku-oki</text>
<text transform="translate(85.3,854.8) rotate(-90)" font-size="39.4" style="fill:#ff0000">Tohoku-oki</text>
<rect x="94.2" y="673.4" width="19.2" height="150.2" fill="#ff0000" stroke="#000" stroke-width="2.2"/>
<text transform="translate(22.2,789.6) rotate(-90)" font-size="28.6" text-anchor="middle">Latitude</text>
<text x="685.4" y="1192" font-size="28.6" text-anchor="middle">Date</text>
<text x="17.9" y="478" font-size="54.8" style="fill:#000">b)</text>
<linearGradient id="pg" x1="0" y1="1" x2="0" y2="0">
<stop offset="0.0000" stop-color="#3e26a8"/>
<stop offset="0.0156" stop-color="#402ab4"/>
<stop offset="0.0312" stop-color="#422ebf"/>
<stop offset="0.0469" stop-color="#4332ca"/>
<stop offset="0.0625" stop-color="#4536d5"/>
<stop offset="0.0781" stop-color="#463bdd"/>
<stop offset="0.0938" stop-color="#4741e5"/>
<stop offset="0.1094" stop-color="#4746ea"/>
<stop offset="0.1250" stop-color="#484cef"/>
<stop offset="0.1406" stop-color="#4852f4"/>
<stop offset="0.1562" stop-color="#4757f7"/>
<stop offset="0.1719" stop-color="#475dfa"/>
<stop offset="0.1875" stop-color="#4562fc"/>
<stop offset="0.2031" stop-color="#4368fe"/>
<stop offset="0.2188" stop-color="#3f6efe"/>
<stop offset="0.2344" stop-color="#3a74fe"/>
<stop offset="0.2500" stop-color="#347afd"/>
<stop offset="0.2656" stop-color="#3080fa"/>
<stop offset="0.2812" stop-color="#2e85f8"/>
<stop offset="0.2969" stop-color="#2d8bf4"/>
<stop offset="0.3125" stop-color="#2c90f0"/>
<stop offset="0.3281" stop-color="#2895ec"/>
<stop offset="0.3438" stop-color="#269ae9"/>
<stop offset="0.3594" stop-color="#249ee6"/>
<stop offset="0.3750" stop-color="#21a3e3"/>
<stop offset="0.3906" stop-color="#1ea7e1"/>
<stop offset="0.4062" stop-color="#1aacdd"/>
<stop offset="0.4219" stop-color="#14b0d8"/>
<stop offset="0.4375" stop-color="#0cb3d3"/>
<stop offset="0.4531" stop-color="#04b6cd"/>
<stop offset="0.4688" stop-color="#01b9c6"/>
<stop offset="0.4844" stop-color="#07bcc0"/>
<stop offset="0.5000" stop-color="#12beb9"/>
<stop offset="0.5156" stop-color="#1ec0b2"/>
<stop offset="0.5312" stop-color="#28c2ab"/>
<stop offset="0.5469" stop-color="#2ec5a4"/>
<stop offset="0.5625" stop-color="#34c79c"/>
<stop offset="0.5781" stop-color="#3ac993"/>
<stop offset="0.5938" stop-color="#44ca8a"/>
<stop offset="0.6094" stop-color="#4fcc80"/>
<stop offset="0.6250" stop-color="#5ccc76"/>
<stop offset="0.6406" stop-color="#69cd6b"/>
<stop offset="0.6562" stop-color="#77cc60"/>
<stop offset="0.6719" stop-color="#85cb55"/>
<stop offset="0.6875" stop-color="#94ca4a"/>
<stop offset="0.7031" stop-color="#a2c840"/>
<stop offset="0.7188" stop-color="#afc637"/>
<stop offset="0.7344" stop-color="#bcc42f"/>
<stop offset="0.7500" stop-color="#c8c129"/>
<stop offset="0.7656" stop-color="#d4bf28"/>
<stop offset="0.7812" stop-color="#debc2a"/>
<stop offset="0.7969" stop-color="#e8bb2f"/>
<stop offset="0.8125" stop-color="#f1ba37"/>
<stop offset="0.8281" stop-color="#f9bb3d"/>
<stop offset="0.8438" stop-color="#febe3c"/>
<stop offset="0.8594" stop-color="#fec437"/>
<stop offset="0.8750" stop-color="#feca33"/>
<stop offset="0.8906" stop-color="#fcd030"/>
<stop offset="0.9062" stop-color="#f9d62d"/>
<stop offset="0.9219" stop-color="#f7dd2a"/>
<stop offset="0.9375" stop-color="#f5e327"/>
<stop offset="0.9531" stop-color="#f5e924"/>
<stop offset="0.9688" stop-color="#f6ef20"/>
<stop offset="0.9844" stop-color="#f7f51b"/>
<stop offset="1.0000" stop-color="#f9fb15"/>
</linearGradient>
<rect x="1224.4" y="458.4" width="31.2" height="665.0" fill="url(#pg)" stroke="#262626" stroke-width="1.3"/>
<text x="1263.4" y="1131.2" font-size="23.2">0</text>
<text x="1263.4" y="909.5" font-size="23.2">0.005</text>
<text x="1263.4" y="687.9" font-size="23.2">0.01</text>
<text x="1263.4" y="466.2" font-size="23.2">0.015</text>
<path d="M1255.6 1123.4h-7M1255.6 901.7h-7M1255.6 680.1h-7M1255.6 458.4h-7" stroke="#262626" stroke-width="1.3" fill="none"/>
<text transform="translate(1308.6,738.8) rotate(90)" font-size="55" style="fill:#000">pdf</text>
</svg></body></html>
